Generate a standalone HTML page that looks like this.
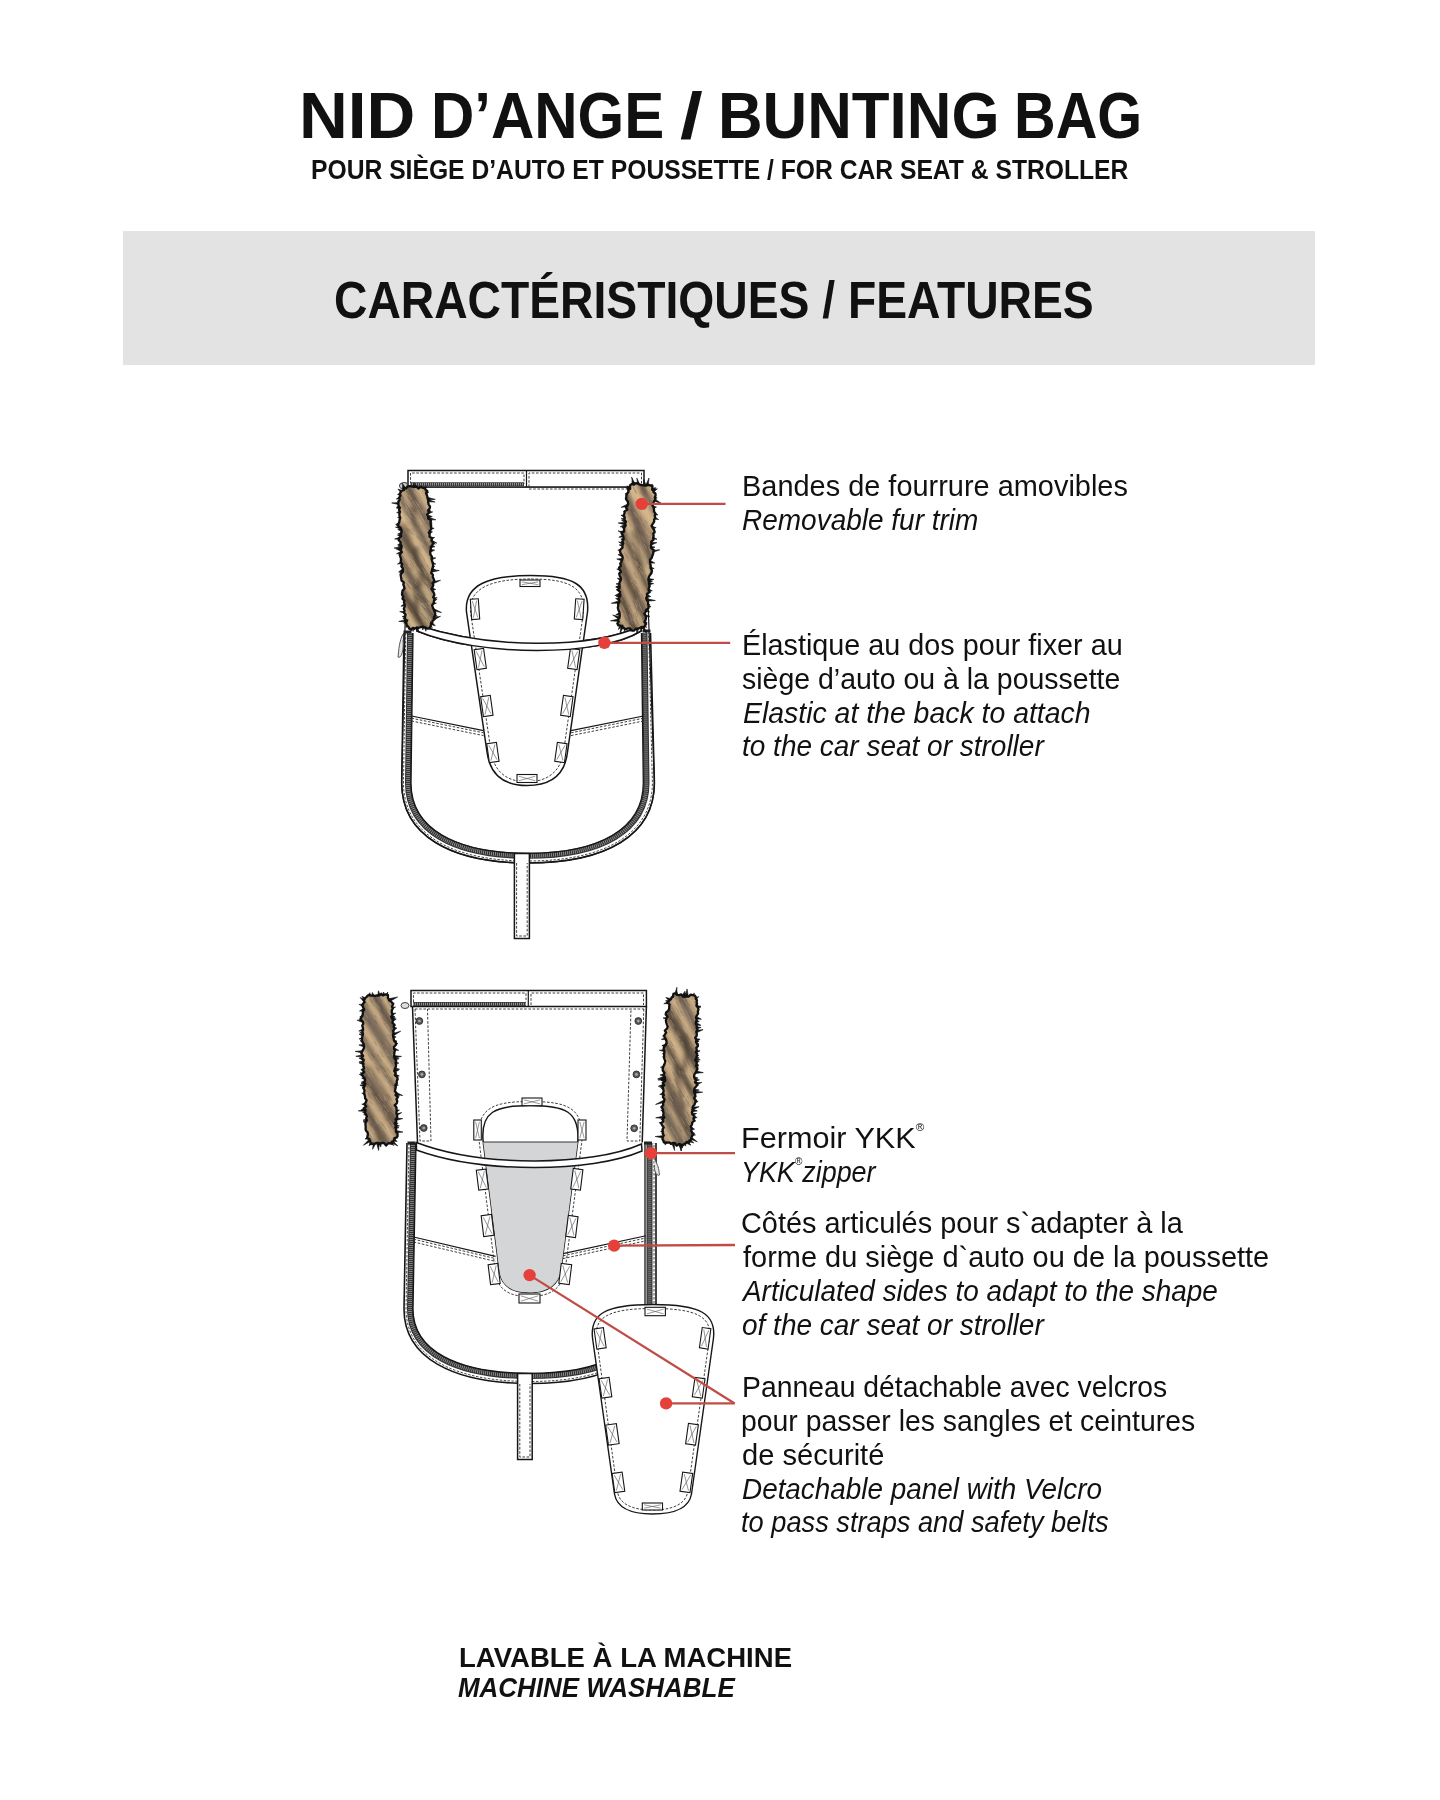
<!DOCTYPE html>
<html><head><meta charset="utf-8"><style>
html,body{margin:0;padding:0;background:#fff;}
body{width:1440px;height:1800px;position:relative;overflow:hidden;font-family:"Liberation Sans",sans-serif;color:#111;}
.t{position:absolute;white-space:nowrap;transform-origin:0 0;}
.t sup{font-size:0.38em;vertical-align:0;position:relative;top:-1.55em;}
.band{position:absolute;left:123px;top:231px;width:1192px;height:134px;background:#e3e3e3;}
svg{position:absolute;left:0;top:0;}
</style></head><body>
<div class="band"></div>
<svg width="1440" height="1800" viewBox="0 0 1440 1800">
<defs><filter id="blur2" x="-20%" y="-20%" width="140%" height="140%"><feGaussianBlur stdDeviation="2"/></filter></defs>
<path d="M408.0,487.0 L401.7,783.0 C401.7,835.0 449.7,863.0 528.0,863.0 C606.4,863.0 654.4,835.0 654.4,783.0 L644.0,487.0 Z" fill="#fff" stroke="#161616" stroke-width="1.2"/>
<rect x="408" y="470.5" width="236" height="16.5" fill="#fff" stroke="#161616" stroke-width="1.5"/>
<path d="M526.5,470.5 L526.5,487" stroke="#161616" stroke-width="1.2"/>
<path d="M410.5,484 L410.5,473 L524,473 L524,484 M529,487 L529,473 L641.5,473 L641.5,486" fill="none" stroke="#2a2a2a" stroke-width="0.9" stroke-dasharray="2.6 1.6"/>
<path d="M410,484.3 L524,484.3" stroke="#3a3a3a" stroke-width="4"/><path d="M410,484.3 L524,484.3" stroke="#999" stroke-width="2.6" stroke-dasharray="0.9 1.1"/>
<path d="M529,489 L643,489" stroke="#2a2a2a" stroke-width="0.9" stroke-dasharray="2.6 1.6"/>
<path d="M410.0,633.0 L408.0,783.0 C408.0,830.3 453.6,855.8 528.0,855.8 C601.5,855.8 646.5,830.3 646.5,783.0 L644.5,633.0" fill="none" stroke="#333" stroke-width="6"/>
<path d="M410.0,633.0 L408.0,783.0 C408.0,830.3 453.6,855.8 528.0,855.8 C601.5,855.8 646.5,830.3 646.5,783.0 L644.5,633.0" fill="none" stroke="#999" stroke-width="3.8" stroke-dasharray="0.8 1.2"/>
<path d="M413.0,633.0 L411.0,783.0 C411.0,828.7 455.5,853.3 528.0,853.3 C599.5,853.3 643.3,828.7 643.3,783.0 L641.5,633.0" fill="none" stroke="#161616" stroke-width="1.3"/>
<path d="M405.7,633.0 L403.5,783.0 C403.5,833.7 450.8,861.0 528.0,861.0 C605.1,861.0 652.4,833.7 652.4,783.0 L648.7,633.0" fill="none" stroke="#333" stroke-width="0.9" stroke-dasharray="2.5 1.5"/>
<path d="M404.0,633.0 L401.7,783.0 C401.7,835.0 449.7,863.0 528.0,863.0 C606.4,863.0 654.4,835.0 654.4,783.0 L650.5,633.0" fill="none" stroke="#161616" stroke-width="1.6"/>
<rect x="514.4" y="853.5" width="15" height="85" fill="#fff" stroke="#161616" stroke-width="1.5"/>
<path d="M516.6,863 L516.6,936 L527.2,936 L527.2,863" fill="none" stroke="#2a2a2a" stroke-width="0.9" stroke-dasharray="2.6 1.6"/>
<path d="M411.5,716 L483.5,730.6" stroke="#161616" stroke-width="1.1"/>
<path d="M411.5,718.2 L483.5,732.8000000000001" stroke="#2a2a2a" stroke-width="0.9" stroke-dasharray="2.6 1.6"/>
<path d="M411.5,721 L483.5,735.6" stroke="#2a2a2a" stroke-width="0.9" stroke-dasharray="2.6 1.6"/>
<path d="M571,730.6 L643.5,716" stroke="#161616" stroke-width="1.1"/>
<path d="M571,732.8000000000001 L643.5,718.2" stroke="#2a2a2a" stroke-width="0.9" stroke-dasharray="2.6 1.6"/>
<path d="M571,735.6 L643.5,721" stroke="#2a2a2a" stroke-width="0.9" stroke-dasharray="2.6 1.6"/>
<path d="M417,631 C480,657 600,657 641,631 L641,626 C590,649.2 490,649.2 417,625 Z" fill="#fff" stroke="#161616" stroke-width="1.5"/>
<g id="p1">
<path d="M531,575.5 C572,575.5 590,584 587.5,612 L567.5,752 C565,775 550,785.5 527,785.5 C504,785.5 490,775 487,752 L466.5,612 C464,584 490,575.5 531,575.5 Z" fill="#fff" stroke="#161616" stroke-width="1.5"/>
<path d="M531,579 C569,579 585,587 583.5,612 L563.8,750 C561.5,771 548,781.8 527,781.8 C506,781.8 493.5,771 490.8,750 L470.5,612 C468.5,587 493,579 531,579 Z" fill="none" stroke="#2a2a2a" stroke-width="0.9" stroke-dasharray="2.6 1.6"/>
<g><rect x="520.0" y="580.0" width="20.0" height="6.5" fill="#fff" stroke="#161616" stroke-width="1.1"/><path d="M521.8,581.8 L538.2,584.7 M538.2,581.8 L521.8,584.7" stroke="#555" stroke-width="0.6"/></g>
<g transform="rotate(-4.0 475.0 609.2)"><rect x="471.0" y="599.0" width="8.0" height="20.4" fill="#fff" stroke="#161616" stroke-width="1.1"/><path d="M472.8,600.8 L477.2,617.6 M477.2,600.8 L472.8,617.6" stroke="#555" stroke-width="0.6"/></g>
<g transform="rotate(4.0 579.2 609.2)"><rect x="575.0" y="599.0" width="8.4" height="20.4" fill="#fff" stroke="#161616" stroke-width="1.1"/><path d="M576.8,600.8 L581.6,617.6 M581.6,600.8 L576.8,617.6" stroke="#555" stroke-width="0.6"/></g>
<g transform="rotate(-8.0 480.2 659.0)"><rect x="475.5" y="649.0" width="9.5" height="20.0" fill="#fff" stroke="#161616" stroke-width="1.1"/><path d="M477.3,650.8 L483.2,667.2 M483.2,650.8 L477.3,667.2" stroke="#555" stroke-width="0.6"/></g>
<g transform="rotate(8.0 573.8 659.0)"><rect x="569.0" y="649.0" width="9.5" height="20.0" fill="#fff" stroke="#161616" stroke-width="1.1"/><path d="M570.8,650.8 L576.7,667.2 M576.7,650.8 L570.8,667.2" stroke="#555" stroke-width="0.6"/></g>
<g transform="rotate(-8.0 486.9 706.0)"><rect x="482.0" y="696.0" width="9.7" height="20.0" fill="#fff" stroke="#161616" stroke-width="1.1"/><path d="M483.8,697.8 L489.9,714.2 M489.9,697.8 L483.8,714.2" stroke="#555" stroke-width="0.6"/></g>
<g transform="rotate(8.0 566.9 706.0)"><rect x="562.0" y="696.0" width="9.7" height="20.0" fill="#fff" stroke="#161616" stroke-width="1.1"/><path d="M563.8,697.8 L569.9,714.2 M569.9,697.8 L563.8,714.2" stroke="#555" stroke-width="0.6"/></g>
<g transform="rotate(-8.0 492.9 752.5)"><rect x="488.0" y="743.0" width="9.8" height="19.0" fill="#fff" stroke="#161616" stroke-width="1.1"/><path d="M489.8,744.8 L496.0,760.2 M496.0,744.8 L489.8,760.2" stroke="#555" stroke-width="0.6"/></g>
<g transform="rotate(8.0 560.9 752.5)"><rect x="556.0" y="743.0" width="9.8" height="19.0" fill="#fff" stroke="#161616" stroke-width="1.1"/><path d="M557.8,744.8 L564.0,760.2 M564.0,744.8 L557.8,760.2" stroke="#555" stroke-width="0.6"/></g>
<g><rect x="517.0" y="774.5" width="20.0" height="8.0" fill="#fff" stroke="#161616" stroke-width="1.1"/><path d="M518.8,776.3 L535.2,780.7 M535.2,776.3 L518.8,780.7" stroke="#555" stroke-width="0.6"/></g>
</g>
<path d="M417,631 C480,657 600,657 641,631 L641,626 C590,649.2 490,649.2 417,625 Z" fill="#fff" stroke="#161616" stroke-width="1.5"/>
<ellipse cx="403.5" cy="485.5" rx="4" ry="2.8" fill="#ccc" stroke="#444" stroke-width="1" transform="rotate(-15 403.5 485.5)"/>
<rect x="403.5" y="630.5" width="8" height="3" fill="#222"/>
<rect x="642.5" y="629.5" width="8" height="3" fill="#222"/>
<path d="M403,634 C399,642 399,649 398,657 C401,659 404,651 403,640" fill="#e6e6e6" stroke="#555" stroke-width="1"/>
<clipPath id="fc11"><path d="M400.5,495.6 L399.2,497.7 L399.7,499.7 L398.5,501.8 L398.4,503.8 L398.6,505.8 L400.0,507.8 L399.0,509.9 L400.0,511.8 L399.3,513.9 L399.5,515.9 L400.3,517.9 L399.6,519.9 L399.3,522.0 L398.3,524.0 L398.4,526.1 L400.7,528.0 L401.5,529.9 L401.6,532.0 L400.8,534.0 L401.2,536.0 L399.1,538.2 L398.7,540.2 L400.6,542.1 L400.7,544.1 L401.7,546.1 L401.5,548.1 L400.6,550.2 L401.9,552.2 L399.8,554.3 L400.2,556.3 L400.9,558.3 L401.0,560.3 L400.6,562.3 L402.2,564.3 L401.3,566.3 L402.9,568.3 L403.0,570.3 L402.7,572.3 L400.6,574.5 L400.9,576.5 L401.3,578.5 L401.5,580.5 L403.9,582.4 L403.3,584.4 L404.0,586.4 L404.5,588.4 L402.6,590.5 L402.2,592.6 L402.0,594.6 L403.2,596.6 L402.5,598.6 L404.4,600.6 L403.9,602.6 L404.8,604.6 L404.7,606.6 L403.8,608.7 L404.6,610.6 L404.0,612.7 L405.6,614.6 L405.1,616.7 L404.8,618.7 L407.1,620.6 L405.9,622.3 L406.5,623.8 L406.8,625.6 L408.3,626.6 L409.1,628.5 L410.8,629.5 L413.0,627.8 L414.5,628.8 L416.7,627.4 L418.9,627.8 L421.0,627.0 L423.2,626.7 L425.5,627.6 L427.3,628.6 L429.2,628.3 L430.3,626.7 L430.9,624.9 L430.9,623.1 L432.4,622.2 L432.5,620.8 L434.4,619.3 L433.8,617.3 L435.2,615.2 L435.2,613.2 L434.4,611.2 L433.6,609.2 L432.7,607.2 L432.1,605.2 L433.6,603.1 L433.9,601.1 L434.5,599.1 L433.2,597.1 L434.4,595.0 L433.9,593.0 L432.8,591.1 L431.4,589.1 L432.6,587.0 L433.3,585.0 L432.5,583.0 L434.3,580.9 L433.7,578.9 L432.7,576.9 L433.0,574.9 L431.2,572.9 L431.9,570.9 L432.2,568.8 L433.0,566.8 L433.1,564.8 L432.7,562.8 L432.1,560.8 L431.6,558.8 L431.9,556.7 L430.6,554.8 L430.2,552.8 L430.3,550.8 L430.9,548.7 L430.7,546.7 L432.7,544.6 L432.8,542.5 L431.3,540.6 L432.1,538.5 L429.5,536.6 L429.7,534.6 L428.8,532.6 L430.3,530.5 L431.4,528.5 L431.0,526.5 L430.8,524.4 L430.5,522.4 L431.0,520.4 L428.1,518.5 L428.1,516.5 L427.1,514.5 L429.2,512.4 L428.0,510.4 L429.8,508.3 L430.0,506.3 L428.6,504.3 L428.2,502.3 L428.2,500.3 L427.6,498.3 L427.3,496.3 L426.6,494.3 L426.0,493.0 L427.2,490.9 L425.6,489.8 L425.0,488.0 L423.0,487.9 L421.6,487.2 L420.0,486.9 L418.6,488.6 L416.3,486.7 L414.1,487.1 L411.9,486.5 L409.7,486.2 L407.5,486.3 L406.2,488.3 L404.4,487.8 L404.0,490.1 L402.6,490.5 L401.1,491.3 L400.5,492.7 L399.6,494.1Z"/></clipPath>
<path d="M400.3,496.4 L396.2,499.0 L400.4,499.0Z M400.3,500.4 L397.3,501.2 L400.5,503.0Z M400.3,502.4 L391.7,502.9 L400.5,505.0Z M400.4,504.4 L396.4,507.4 L400.5,507.0Z M400.4,506.5 L396.5,508.1 L400.5,509.1Z M400.4,510.5 L396.6,512.7 L400.6,513.1Z M400.5,516.6 L397.6,517.4 L400.6,519.2Z M400.6,522.6 L395.6,524.3 L400.7,525.2Z M400.6,524.6 L396.3,525.2 L400.8,527.2Z M400.7,526.7 L395.5,527.1 L400.8,529.3Z M400.7,528.7 L397.8,529.5 L400.9,531.3Z M400.8,532.7 L397.8,533.8 L401.0,535.3Z M400.9,534.7 L397.4,535.0 L401.0,537.3Z M401.0,536.8 L394.6,539.0 L401.1,539.4Z M401.2,542.8 L397.6,544.9 L401.3,545.4Z M401.2,544.8 L397.9,546.0 L401.4,547.4Z M401.3,546.8 L394.1,548.0 L401.4,549.4Z M401.4,548.9 L396.3,549.1 L401.5,551.5Z M401.5,550.9 L396.5,553.8 L401.6,553.5Z M401.7,554.9 L398.8,555.4 L401.8,557.5Z M402.0,561.0 L397.5,564.1 L402.1,563.6Z M402.4,569.0 L398.6,571.9 L402.6,571.6Z M402.6,571.0 L399.5,572.8 L402.7,573.6Z M403.0,577.1 L400.1,577.7 L403.1,579.7Z M405.0,603.3 L400.9,606.2 L405.2,605.9Z M405.8,611.3 L399.7,611.6 L405.9,613.9Z M406.1,615.3 L402.1,616.5 L406.3,617.9Z M406.3,617.3 L402.8,618.3 L406.4,619.9Z M406.5,619.4 L398.8,621.4 L406.6,622.0Z M406.5,620.8 L403.7,623.0 L407.2,623.3Z M407.4,623.5 L405.9,627.5 L409.0,625.6Z M410.4,626.6 L411.0,631.0 L412.9,627.5Z M411.8,627.2 L413.1,631.5 L414.3,627.6Z M415.4,627.4 L418.8,632.2 L418.0,627.3Z M422.0,627.1 L422.7,629.9 L424.6,627.0Z M424.2,627.0 L425.9,631.3 L426.8,626.9Z M428.4,626.3 L432.3,627.4 L430.5,624.7Z M430.7,624.5 L435.3,625.8 L432.1,622.3Z M432.7,620.7 L440.5,616.3 L432.6,618.1Z M432.7,616.6 L437.7,616.3 L432.6,614.0Z M432.7,614.6 L435.9,613.7 L432.5,612.0Z M432.6,610.6 L441.5,612.6 L432.5,608.0Z M432.6,604.5 L436.4,603.2 L432.4,601.9Z M432.5,602.5 L437.2,599.2 L432.4,599.9Z M432.5,600.5 L437.2,597.5 L432.4,597.9Z M432.4,590.4 L435.8,589.5 L432.2,587.8Z M432.2,584.3 L440.5,580.3 L432.1,581.7Z M431.8,572.2 L439.3,570.5 L431.7,569.6Z M431.8,570.2 L435.6,570.1 L431.6,567.6Z M431.7,568.2 L434.7,566.5 L431.6,565.6Z M431.5,564.1 L435.9,564.1 L431.4,561.5Z M431.3,560.1 L435.8,557.9 L431.2,557.5Z M430.9,552.0 L434.7,550.1 L430.8,549.4Z M430.7,548.0 L435.0,546.6 L430.6,545.4Z M430.4,544.0 L435.3,544.0 L430.3,541.4Z M430.3,541.9 L436.8,543.1 L430.2,539.3Z M430.2,539.9 L434.7,537.5 L430.1,537.3Z M429.8,533.9 L432.5,531.8 L429.6,531.3Z M429.5,529.9 L434.1,528.3 L429.3,527.3Z M429.3,527.8 L432.3,525.3 L429.2,525.2Z M429.0,523.8 L432.3,523.2 L428.9,521.2Z M428.7,519.8 L435.9,519.8 L428.5,517.2Z M428.5,517.8 L432.3,516.6 L428.4,515.2Z M428.1,513.8 L432.7,511.9 L428.0,511.2Z M428.0,511.7 L430.8,511.1 L427.8,509.1Z M427.1,501.7 L435.1,502.0 L426.9,499.1Z M426.9,499.7 L435.3,499.4 L426.7,497.1Z M426.5,494.2 L428.8,492.0 L425.8,491.7Z M424.8,490.2 L426.7,486.3 L422.8,488.5Z M417.6,487.6 L415.5,484.7 L415.0,487.7Z M415.4,487.7 L414.1,482.7 L412.8,487.8Z M406.0,488.2 L402.0,483.1 L403.6,489.3Z M404.6,488.7 L402.6,486.5 L402.5,490.3Z M402.3,490.5 L397.9,489.1 L400.9,492.7Z M400.7,492.9 L397.5,494.5 L400.3,495.5Z" fill="#111" stroke="#111" stroke-width="0.6" stroke-linejoin="miter"/>
<path d="M400.5,495.6 L399.2,497.7 L399.7,499.7 L398.5,501.8 L398.4,503.8 L398.6,505.8 L400.0,507.8 L399.0,509.9 L400.0,511.8 L399.3,513.9 L399.5,515.9 L400.3,517.9 L399.6,519.9 L399.3,522.0 L398.3,524.0 L398.4,526.1 L400.7,528.0 L401.5,529.9 L401.6,532.0 L400.8,534.0 L401.2,536.0 L399.1,538.2 L398.7,540.2 L400.6,542.1 L400.7,544.1 L401.7,546.1 L401.5,548.1 L400.6,550.2 L401.9,552.2 L399.8,554.3 L400.2,556.3 L400.9,558.3 L401.0,560.3 L400.6,562.3 L402.2,564.3 L401.3,566.3 L402.9,568.3 L403.0,570.3 L402.7,572.3 L400.6,574.5 L400.9,576.5 L401.3,578.5 L401.5,580.5 L403.9,582.4 L403.3,584.4 L404.0,586.4 L404.5,588.4 L402.6,590.5 L402.2,592.6 L402.0,594.6 L403.2,596.6 L402.5,598.6 L404.4,600.6 L403.9,602.6 L404.8,604.6 L404.7,606.6 L403.8,608.7 L404.6,610.6 L404.0,612.7 L405.6,614.6 L405.1,616.7 L404.8,618.7 L407.1,620.6 L405.9,622.3 L406.5,623.8 L406.8,625.6 L408.3,626.6 L409.1,628.5 L410.8,629.5 L413.0,627.8 L414.5,628.8 L416.7,627.4 L418.9,627.8 L421.0,627.0 L423.2,626.7 L425.5,627.6 L427.3,628.6 L429.2,628.3 L430.3,626.7 L430.9,624.9 L430.9,623.1 L432.4,622.2 L432.5,620.8 L434.4,619.3 L433.8,617.3 L435.2,615.2 L435.2,613.2 L434.4,611.2 L433.6,609.2 L432.7,607.2 L432.1,605.2 L433.6,603.1 L433.9,601.1 L434.5,599.1 L433.2,597.1 L434.4,595.0 L433.9,593.0 L432.8,591.1 L431.4,589.1 L432.6,587.0 L433.3,585.0 L432.5,583.0 L434.3,580.9 L433.7,578.9 L432.7,576.9 L433.0,574.9 L431.2,572.9 L431.9,570.9 L432.2,568.8 L433.0,566.8 L433.1,564.8 L432.7,562.8 L432.1,560.8 L431.6,558.8 L431.9,556.7 L430.6,554.8 L430.2,552.8 L430.3,550.8 L430.9,548.7 L430.7,546.7 L432.7,544.6 L432.8,542.5 L431.3,540.6 L432.1,538.5 L429.5,536.6 L429.7,534.6 L428.8,532.6 L430.3,530.5 L431.4,528.5 L431.0,526.5 L430.8,524.4 L430.5,522.4 L431.0,520.4 L428.1,518.5 L428.1,516.5 L427.1,514.5 L429.2,512.4 L428.0,510.4 L429.8,508.3 L430.0,506.3 L428.6,504.3 L428.2,502.3 L428.2,500.3 L427.6,498.3 L427.3,496.3 L426.6,494.3 L426.0,493.0 L427.2,490.9 L425.6,489.8 L425.0,488.0 L423.0,487.9 L421.6,487.2 L420.0,486.9 L418.6,488.6 L416.3,486.7 L414.1,487.1 L411.9,486.5 L409.7,486.2 L407.5,486.3 L406.2,488.3 L404.4,487.8 L404.0,490.1 L402.6,490.5 L401.1,491.3 L400.5,492.7 L399.6,494.1Z" fill="#a88d70"/>
<g clip-path="url(#fc11)"><g filter="url(#blur2)">
<path d="M390.5,428.0 L433.1,499.1" stroke="#4a4036" stroke-width="8.3" opacity="0.85" stroke-linecap="round"/>
<path d="M398.0,433.5 L410.4,469.5" stroke="#3f352c" stroke-width="4.7" opacity="0.6" stroke-linecap="round"/>
<path d="M391.3,442.8 L433.8,513.6" stroke="#d9bb90" stroke-width="9.9" opacity="0.76" stroke-linecap="round"/>
<path d="M392.1,460.3 L434.9,535.0" stroke="#6b5e52" stroke-width="10.3" opacity="0.73" stroke-linecap="round"/>
<path d="M392.9,474.9 L435.8,552.1" stroke="#d9bb90" stroke-width="5.3" opacity="0.80" stroke-linecap="round"/>
<path d="M393.5,487.7 L436.2,560.9" stroke="#5e5248" stroke-width="8.1" opacity="0.72" stroke-linecap="round"/>
<path d="M410.6,488.8 L415.8,526.2" stroke="#3f352c" stroke-width="3.7" opacity="0.6" stroke-linecap="round"/>
<path d="M394.2,502.2 L437.1,578.8" stroke="#d9bb90" stroke-width="7.7" opacity="0.95" stroke-linecap="round"/>
<path d="M395.4,525.0 L437.9,595.7" stroke="#54483d" stroke-width="7.4" opacity="0.80" stroke-linecap="round"/>
<path d="M404.5,524.7 L417.7,560.4" stroke="#3f352c" stroke-width="3.8" opacity="0.6" stroke-linecap="round"/>
<path d="M396.2,541.1 L438.8,614.1" stroke="#d9bb90" stroke-width="6.0" opacity="0.77" stroke-linecap="round"/>
<path d="M396.8,553.9 L439.6,628.9" stroke="#5e5248" stroke-width="9.0" opacity="0.88" stroke-linecap="round"/>
<path d="M417.3,547.6 L421.0,586.0" stroke="#3f352c" stroke-width="3.9" opacity="0.6" stroke-linecap="round"/>
<path d="M397.4,567.0 L440.2,642.5" stroke="#d9bb90" stroke-width="5.4" opacity="0.72" stroke-linecap="round"/>
<path d="M398.5,588.0 L440.9,655.0" stroke="#4a4036" stroke-width="9.8" opacity="0.80" stroke-linecap="round"/>
<path d="M414.6,585.2 L418.7,619.6" stroke="#3f352c" stroke-width="4.6" opacity="0.6" stroke-linecap="round"/>
<path d="M399.4,605.6 L441.7,672.0" stroke="#d9bb90" stroke-width="9.1" opacity="0.91" stroke-linecap="round"/>
<path d="M400.2,623.1 L442.5,688.0" stroke="#6b5e52" stroke-width="10.5" opacity="0.86" stroke-linecap="round"/>
<path d="M406.5,624.7 L423.2,657.3" stroke="#3f352c" stroke-width="3.6" opacity="0.6" stroke-linecap="round"/>
<path d="M401.1,640.8 L443.6,710.8" stroke="#d9bb90" stroke-width="7.1" opacity="0.79" stroke-linecap="round"/>
</g>
<path d="M432.4,613.5 L434.8,617.1 M406.5,527.6 L408.8,531.2 M408.1,528.2 L412.1,534.4 M422.3,591.4 L424.8,595.2 M407.0,624.6 L410.4,629.7 M402.3,543.0 L406.9,550.0 M418.7,536.7 L421.9,541.6 M406.4,564.1 L410.1,569.8 M429.7,523.8 L433.2,529.2 M408.2,580.8 L410.6,584.4 M406.0,494.7 L410.6,501.7 M413.7,594.8 L416.6,599.1 M421.8,597.3 L424.8,602.0 M409.9,563.5 L414.0,569.7 M406.8,583.2 L411.2,589.8 M416.8,578.7 L420.9,584.9 M406.4,504.4 L411.2,511.8 M422.4,545.8 L427.2,553.1 M409.1,580.3 L411.7,584.3 M433.9,618.6 L436.4,622.3 M415.2,590.4 L418.0,594.7 M424.3,596.1 L427.9,601.6 M406.6,616.6 L409.7,621.3 M428.4,514.7 L433.1,521.9 M423.6,559.5 L428.4,566.9 M420.3,553.2 L424.6,559.8 M419.4,505.4 L422.3,509.8 M427.4,631.6 L431.0,637.1 M408.2,606.6 L412.6,613.2 M414.1,496.6 L417.5,501.9 M406.1,528.3 L409.4,533.3 M413.0,513.5 L416.6,519.0 M428.2,528.3 L431.2,532.8 M430.1,585.1 L433.3,590.1 M432.8,580.0 L435.9,584.8 M431.3,550.4 L436.2,557.8 M418.8,525.7 L422.4,531.2 M425.3,582.3 L428.0,586.4 M410.0,567.3 L413.1,572.0 M408.0,496.5 L412.0,502.7 M429.9,570.9 L432.7,575.1 M400.3,493.6 L403.6,498.7 M422.4,605.8 L425.5,610.5 M403.1,588.4 L407.4,595.0 M420.1,531.7 L424.0,537.7 M408.6,601.6 L412.4,607.4 M421.4,564.6 L424.9,569.9 M410.0,560.3 L414.4,567.0 M427.1,511.2 L430.0,515.6 M424.0,622.1 L427.4,627.3 M418.2,618.6 L421.9,624.2 M410.4,632.3 L414.2,638.1 M427.5,617.0 L431.2,622.7 M427.8,492.8 L430.5,496.8 M409.8,528.7 L413.9,535.1 M422.2,484.0 L425.6,489.2 M413.4,508.3 L416.3,512.6 M407.7,488.0 L410.3,491.9 M412.0,544.3 L416.0,550.5 M409.7,632.7 L414.2,639.5 M418.7,618.7 L422.3,624.2 M406.2,490.6 L410.8,497.6 M412.1,528.2 L414.5,531.7 M429.6,541.2 L433.6,547.4 M423.9,541.3 L426.2,544.9 M421.7,612.7 L426.0,619.3 M432.0,617.8 L436.3,624.4 M420.7,481.7 L423.7,486.2 M422.0,605.0 L425.2,609.7 M425.4,617.4 L429.0,622.7 M420.6,512.9 L425.3,520.0 M416.3,535.4 L418.9,539.4 M427.0,577.0 L431.6,583.9 M402.7,529.9 L407.2,536.8 M421.5,623.5 L423.9,627.1 M424.1,511.2 L426.9,515.4 M405.8,582.6 L409.6,588.3 M424.7,582.4 L428.6,588.3 M415.8,561.8 L418.0,565.3 M431.6,602.6 L434.5,607.1 M426.6,564.3 L431.2,571.3 M421.9,595.2 L426.6,602.3 M421.9,579.2 L425.9,585.2 M413.4,609.9 L417.0,615.4 M410.6,507.1 L413.4,511.4" stroke="#3e342b" stroke-width="0.5" opacity="0.45"/>
<path d="M417.5,567.2 L421.5,573.3 M409.3,514.5 L411.7,518.1 M425.9,524.2 L429.1,528.9 M415.9,589.2 L420.6,596.3 M424.8,603.0 L427.8,607.6 M418.9,519.3 L422.1,524.1 M412.2,511.5 L416.6,518.1 M406.1,509.1 L410.6,516.0 M414.7,564.3 L419.5,571.5 M407.9,565.0 L410.3,568.7 M409.2,495.0 L411.8,498.9 M406.2,515.7 L409.8,521.1 M414.7,628.5 L418.2,633.8 M422.4,620.0 L426.8,626.7 M407.0,608.5 L411.7,615.7 M421.2,603.0 L424.5,608.0 M425.9,538.2 L428.6,542.3 M419.1,490.7 L421.6,494.4 M414.5,491.4 L418.2,497.1 M422.9,509.4 L425.7,513.7 M420.9,509.6 L423.6,513.6 M419.5,605.4 L422.4,609.7 M402.7,565.4 L406.2,570.6 M422.3,602.8 L425.9,608.3 M425.8,580.9 L428.0,584.2 M414.8,589.9 L417.4,593.8 M418.8,613.3 L422.7,619.2 M405.5,505.2 L407.7,508.5 M420.5,494.1 L424.6,500.3 M417.2,626.4 L421.7,633.2 M432.3,619.8 L436.7,626.5 M403.7,506.3 L406.7,510.9 M409.6,552.9 L412.7,557.7 M401.8,552.4 L406.2,559.2 M426.2,588.8 L429.9,594.4 M427.8,602.3 L431.7,608.1 M420.0,526.8 L423.3,531.7 M423.5,592.2 L428.2,599.4 M431.6,606.2 L434.1,610.1 M417.1,509.0 L421.6,515.8 M425.6,505.1 L428.8,510.1 M412.0,559.5 L416.3,565.9 M430.8,543.5 L434.1,548.4 M414.3,581.9 L416.6,585.2 M417.3,497.9 L420.9,503.3 M405.7,506.3 L410.3,513.3 M407.2,503.7 L412.0,511.1 M400.5,512.5 L404.3,518.3 M411.0,569.4 L414.0,574.0 M399.0,501.5 L401.6,505.3 M424.2,566.2 L428.9,573.3 M403.6,501.0 L406.6,505.5 M428.7,607.0 L432.4,612.5 M406.5,631.7 L410.5,637.7 M412.8,539.8 L417.1,546.4 M417.3,503.4 L421.1,509.1 M422.2,567.5 L426.1,573.5 M416.8,627.0 L420.3,632.2 M410.6,596.8 L414.1,602.1 M417.9,543.7 L421.6,549.3 M403.5,547.9 L406.5,552.5 M415.2,592.7 L419.4,599.1 M415.3,500.7 L418.9,506.1 M424.8,561.1 L427.8,565.6 M405.1,620.3 L409.1,626.4 M406.8,515.9 L410.5,521.5 M412.5,500.8 L417.3,508.0 M428.7,530.4 L433.3,537.4 M431.2,569.7 L433.5,573.1 M405.0,623.8 L408.4,629.0 M428.9,616.9 L433.3,623.7 M404.0,615.6 L406.7,619.7 M425.3,489.0 L429.5,495.2 M429.4,589.1 L433.5,595.3 M420.4,515.4 L424.5,521.6 M408.7,582.8 L411.9,587.6 M420.6,516.3 L425.3,523.4 M398.5,496.3 L401.8,501.4 M423.9,572.2 L426.8,576.6 M426.3,595.7 L429.2,600.2 M434.6,630.4 L438.0,635.6 M426.4,557.0 L430.1,562.6 M418.1,600.3 L421.6,605.6 M430.0,625.2 L434.3,631.7" stroke="#e6cfa8" stroke-width="0.5" opacity="0.5"/>
</g>
<path d="M400.5,495.6 L399.2,497.7 L399.7,499.7 L398.5,501.8 L398.4,503.8 L398.6,505.8 L400.0,507.8 L399.0,509.9 L400.0,511.8 L399.3,513.9 L399.5,515.9 L400.3,517.9 L399.6,519.9 L399.3,522.0 L398.3,524.0 L398.4,526.1 L400.7,528.0 L401.5,529.9 L401.6,532.0 L400.8,534.0 L401.2,536.0 L399.1,538.2 L398.7,540.2 L400.6,542.1 L400.7,544.1 L401.7,546.1 L401.5,548.1 L400.6,550.2 L401.9,552.2 L399.8,554.3 L400.2,556.3 L400.9,558.3 L401.0,560.3 L400.6,562.3 L402.2,564.3 L401.3,566.3 L402.9,568.3 L403.0,570.3 L402.7,572.3 L400.6,574.5 L400.9,576.5 L401.3,578.5 L401.5,580.5 L403.9,582.4 L403.3,584.4 L404.0,586.4 L404.5,588.4 L402.6,590.5 L402.2,592.6 L402.0,594.6 L403.2,596.6 L402.5,598.6 L404.4,600.6 L403.9,602.6 L404.8,604.6 L404.7,606.6 L403.8,608.7 L404.6,610.6 L404.0,612.7 L405.6,614.6 L405.1,616.7 L404.8,618.7 L407.1,620.6 L405.9,622.3 L406.5,623.8 L406.8,625.6 L408.3,626.6 L409.1,628.5 L410.8,629.5 L413.0,627.8 L414.5,628.8 L416.7,627.4 L418.9,627.8 L421.0,627.0 L423.2,626.7 L425.5,627.6 L427.3,628.6 L429.2,628.3 L430.3,626.7 L430.9,624.9 L430.9,623.1 L432.4,622.2 L432.5,620.8 L434.4,619.3 L433.8,617.3 L435.2,615.2 L435.2,613.2 L434.4,611.2 L433.6,609.2 L432.7,607.2 L432.1,605.2 L433.6,603.1 L433.9,601.1 L434.5,599.1 L433.2,597.1 L434.4,595.0 L433.9,593.0 L432.8,591.1 L431.4,589.1 L432.6,587.0 L433.3,585.0 L432.5,583.0 L434.3,580.9 L433.7,578.9 L432.7,576.9 L433.0,574.9 L431.2,572.9 L431.9,570.9 L432.2,568.8 L433.0,566.8 L433.1,564.8 L432.7,562.8 L432.1,560.8 L431.6,558.8 L431.9,556.7 L430.6,554.8 L430.2,552.8 L430.3,550.8 L430.9,548.7 L430.7,546.7 L432.7,544.6 L432.8,542.5 L431.3,540.6 L432.1,538.5 L429.5,536.6 L429.7,534.6 L428.8,532.6 L430.3,530.5 L431.4,528.5 L431.0,526.5 L430.8,524.4 L430.5,522.4 L431.0,520.4 L428.1,518.5 L428.1,516.5 L427.1,514.5 L429.2,512.4 L428.0,510.4 L429.8,508.3 L430.0,506.3 L428.6,504.3 L428.2,502.3 L428.2,500.3 L427.6,498.3 L427.3,496.3 L426.6,494.3 L426.0,493.0 L427.2,490.9 L425.6,489.8 L425.0,488.0 L423.0,487.9 L421.6,487.2 L420.0,486.9 L418.6,488.6 L416.3,486.7 L414.1,487.1 L411.9,486.5 L409.7,486.2 L407.5,486.3 L406.2,488.3 L404.4,487.8 L404.0,490.1 L402.6,490.5 L401.1,491.3 L400.5,492.7 L399.6,494.1Z" fill="none" stroke="#111" stroke-width="2.3" stroke-linejoin="round"/>
<clipPath id="fc12"><path d="M628.6,491.5 L627.3,493.4 L626.3,495.4 L626.3,497.4 L626.1,499.4 L627.8,501.5 L628.1,503.6 L627.6,505.6 L626.0,507.5 L627.4,509.6 L624.6,511.4 L624.6,513.4 L623.8,515.4 L624.8,517.5 L624.3,519.5 L626.0,521.6 L625.2,523.6 L625.7,525.6 L624.3,527.5 L624.1,529.5 L624.1,531.6 L621.6,533.4 L623.0,535.5 L623.5,537.6 L623.7,539.6 L622.3,541.5 L623.3,543.6 L622.4,545.6 L622.6,547.6 L620.5,549.5 L620.0,551.5 L620.6,553.5 L622.1,555.7 L622.7,557.7 L622.2,559.7 L621.5,561.7 L620.2,563.6 L620.9,565.7 L619.1,567.5 L619.6,569.6 L621.0,571.7 L619.2,573.6 L619.7,575.7 L620.8,577.8 L621.0,579.8 L619.8,581.7 L619.3,583.7 L619.6,585.8 L619.7,587.8 L617.8,589.7 L620.0,591.9 L620.1,593.9 L620.3,595.9 L618.8,597.8 L618.9,599.9 L619.4,601.9 L618.1,603.8 L618.3,605.9 L617.8,607.8 L618.4,609.9 L619.4,612.0 L619.7,614.1 L619.8,616.1 L619.3,618.1 L617.9,620.0 L618.7,621.6 L617.3,623.6 L618.4,625.2 L620.6,625.7 L622.4,626.0 L623.0,627.8 L624.5,628.4 L626.0,629.2 L628.0,628.3 L630.0,628.4 L631.9,630.4 L633.9,630.7 L636.1,628.5 L637.5,629.0 L638.9,628.3 L640.2,627.7 L641.5,627.0 L644.0,627.1 L644.9,625.5 L646.1,624.0 L644.4,622.0 L645.5,620.1 L646.0,618.1 L645.9,616.1 L644.4,613.9 L645.6,612.0 L646.1,610.0 L648.4,608.2 L648.6,606.2 L648.0,604.1 L648.1,602.1 L646.6,599.9 L646.2,597.9 L647.3,596.0 L646.9,593.9 L649.7,592.1 L648.6,590.0 L648.8,588.0 L649.7,586.0 L648.9,584.0 L648.9,581.9 L648.3,579.9 L648.6,577.9 L649.4,575.9 L650.7,574.0 L651.7,572.0 L651.7,570.0 L650.5,567.9 L650.8,565.9 L650.4,563.9 L650.1,561.8 L650.0,559.8 L651.7,557.9 L652.3,555.9 L653.0,554.0 L653.4,552.0 L653.4,550.0 L651.1,547.8 L650.9,545.7 L651.4,543.7 L651.2,541.7 L653.4,539.9 L653.2,537.8 L653.7,535.8 L653.2,533.8 L654.6,531.9 L654.0,529.8 L652.7,527.7 L651.6,525.6 L652.9,523.7 L654.2,521.7 L654.1,519.7 L655.3,517.8 L654.7,515.7 L655.6,513.8 L654.1,511.6 L654.0,509.6 L653.8,507.6 L652.5,505.4 L653.3,503.5 L653.9,501.5 L655.3,499.6 L654.7,497.5 L655.6,495.6 L655.4,493.5 L653.5,492.0 L653.3,490.7 L652.1,489.7 L652.4,487.7 L652.3,485.4 L650.1,485.5 L648.6,484.8 L646.9,485.5 L644.9,485.5 L642.9,485.3 L641.0,484.8 L639.0,484.3 L637.1,483.2 L635.4,483.4 L634.0,484.7 L631.9,484.1 L630.3,485.0 L629.9,487.1 L630.2,489.0 L628.1,489.8Z"/></clipPath>
<path d="M628.7,492.2 L624.9,493.9 L628.5,494.8Z M628.0,498.2 L624.8,498.3 L627.8,500.8Z M627.3,504.2 L621.2,507.3 L627.1,506.8Z M626.7,510.3 L623.4,511.7 L626.5,512.8Z M626.4,512.3 L623.4,514.0 L626.2,514.8Z M626.2,514.3 L621.8,515.3 L626.0,516.9Z M626.0,516.3 L620.9,515.1 L625.8,518.9Z M625.8,518.3 L621.2,518.6 L625.6,520.9Z M625.6,520.3 L621.5,520.2 L625.4,522.9Z M625.4,522.3 L618.2,522.9 L625.2,524.9Z M625.1,524.3 L620.2,526.8 L624.9,526.9Z M624.9,526.3 L621.9,527.8 L624.7,528.9Z M624.5,530.3 L620.9,531.4 L624.3,532.9Z M624.3,532.3 L618.1,530.8 L624.1,534.9Z M624.2,534.3 L618.8,537.3 L624.0,536.9Z M623.8,538.3 L620.8,539.1 L623.6,540.9Z M623.4,542.3 L618.7,542.0 L623.2,544.9Z M623.3,544.3 L619.2,544.9 L623.1,546.9Z M622.9,548.4 L617.8,550.2 L622.7,550.9Z M622.4,554.4 L617.9,554.6 L622.2,557.0Z M622.1,558.4 L616.8,559.0 L621.9,561.0Z M621.5,568.4 L616.8,569.1 L621.3,571.0Z M620.9,578.5 L617.3,578.3 L620.7,581.1Z M620.7,582.5 L616.0,583.9 L620.5,585.1Z M620.6,584.5 L615.9,586.8 L620.4,587.1Z M620.5,586.5 L615.7,586.9 L620.3,589.1Z M620.4,588.6 L616.2,589.7 L620.2,591.2Z M620.2,592.6 L614.8,595.6 L620.0,595.2Z M620.1,594.6 L616.1,596.5 L619.9,597.2Z M619.9,598.6 L615.6,598.4 L619.7,601.2Z M619.8,600.6 L611.3,603.3 L619.6,603.2Z M619.4,612.7 L615.7,614.8 L619.2,615.3Z M619.3,616.8 L612.7,615.0 L619.1,619.4Z M619.2,618.8 L610.5,620.8 L619.0,621.4Z M619.6,623.0 L617.3,626.1 L620.8,625.3Z M620.2,624.3 L618.3,629.5 L621.9,626.3Z M621.1,625.5 L619.9,633.9 L623.2,627.1Z M623.4,627.2 L624.7,631.3 L625.9,627.9Z M628.8,628.0 L630.6,631.4 L631.4,628.2Z M630.8,628.2 L632.3,631.6 L633.4,628.4Z M636.2,628.7 L636.9,633.1 L638.8,628.4Z M640.4,627.7 L645.0,629.8 L642.4,626.0Z M641.6,626.9 L646.6,633.3 L643.2,624.8Z M642.6,625.8 L646.7,627.4 L643.8,623.5Z M643.5,624.6 L647.0,623.3 L644.2,622.1Z M644.0,623.3 L647.2,622.6 L644.2,620.7Z M644.7,617.3 L649.9,616.3 L644.9,614.7Z M645.4,611.3 L649.7,611.9 L645.6,608.7Z M645.9,607.3 L651.1,606.8 L646.1,604.7Z M646.1,605.3 L650.2,605.0 L646.3,602.7Z M646.6,601.2 L655.4,600.5 L646.8,598.7Z M647.0,597.2 L650.8,596.6 L647.2,594.6Z M647.6,591.2 L652.3,590.8 L647.8,588.6Z M648.3,585.2 L653.7,583.6 L648.5,582.6Z M648.5,583.2 L652.4,581.3 L648.7,580.6Z M648.7,581.2 L653.9,579.4 L648.9,578.6Z M649.2,575.2 L652.4,573.6 L649.4,572.6Z M649.6,571.2 L653.1,571.1 L649.8,568.6Z M649.7,569.2 L654.2,568.5 L649.9,566.6Z M650.2,563.1 L654.8,563.1 L650.4,560.5Z M650.9,555.1 L653.7,554.8 L651.1,552.5Z M651.0,553.1 L659.8,549.8 L651.2,550.5Z M651.1,551.1 L654.7,549.8 L651.3,548.5Z M651.3,549.1 L655.0,547.1 L651.5,546.5Z M651.5,545.1 L656.9,542.6 L651.7,542.5Z M651.9,539.0 L657.0,539.2 L652.1,536.4Z M652.2,533.0 L655.5,532.8 L652.4,530.4Z M652.4,529.0 L656.2,527.7 L652.6,526.4Z M652.9,518.9 L658.7,519.5 L653.1,516.3Z M653.1,514.9 L657.9,514.9 L653.3,512.3Z M653.3,508.8 L656.5,506.9 L653.5,506.2Z M653.6,500.8 L661.8,503.7 L653.8,498.2Z M653.7,498.8 L657.2,497.9 L653.9,496.2Z M653.8,491.9 L657.4,488.8 L653.0,489.4Z M653.4,490.5 L656.0,487.7 L652.2,488.2Z M648.2,485.8 L649.0,478.0 L645.6,485.6Z M646.2,485.6 L643.7,479.4 L643.6,485.4Z M640.2,485.2 L636.8,478.1 L637.7,485.0Z M636.8,484.8 L634.0,481.8 L634.2,485.1Z M635.4,484.8 L631.6,477.1 L632.9,485.7Z M634.0,485.2 L632.2,480.9 L631.7,486.5Z M631.4,486.6 L626.9,486.1 L629.8,488.7Z M630.4,487.7 L625.6,487.4 L629.2,490.0Z" fill="#111" stroke="#111" stroke-width="0.6" stroke-linejoin="miter"/>
<path d="M628.6,491.5 L627.3,493.4 L626.3,495.4 L626.3,497.4 L626.1,499.4 L627.8,501.5 L628.1,503.6 L627.6,505.6 L626.0,507.5 L627.4,509.6 L624.6,511.4 L624.6,513.4 L623.8,515.4 L624.8,517.5 L624.3,519.5 L626.0,521.6 L625.2,523.6 L625.7,525.6 L624.3,527.5 L624.1,529.5 L624.1,531.6 L621.6,533.4 L623.0,535.5 L623.5,537.6 L623.7,539.6 L622.3,541.5 L623.3,543.6 L622.4,545.6 L622.6,547.6 L620.5,549.5 L620.0,551.5 L620.6,553.5 L622.1,555.7 L622.7,557.7 L622.2,559.7 L621.5,561.7 L620.2,563.6 L620.9,565.7 L619.1,567.5 L619.6,569.6 L621.0,571.7 L619.2,573.6 L619.7,575.7 L620.8,577.8 L621.0,579.8 L619.8,581.7 L619.3,583.7 L619.6,585.8 L619.7,587.8 L617.8,589.7 L620.0,591.9 L620.1,593.9 L620.3,595.9 L618.8,597.8 L618.9,599.9 L619.4,601.9 L618.1,603.8 L618.3,605.9 L617.8,607.8 L618.4,609.9 L619.4,612.0 L619.7,614.1 L619.8,616.1 L619.3,618.1 L617.9,620.0 L618.7,621.6 L617.3,623.6 L618.4,625.2 L620.6,625.7 L622.4,626.0 L623.0,627.8 L624.5,628.4 L626.0,629.2 L628.0,628.3 L630.0,628.4 L631.9,630.4 L633.9,630.7 L636.1,628.5 L637.5,629.0 L638.9,628.3 L640.2,627.7 L641.5,627.0 L644.0,627.1 L644.9,625.5 L646.1,624.0 L644.4,622.0 L645.5,620.1 L646.0,618.1 L645.9,616.1 L644.4,613.9 L645.6,612.0 L646.1,610.0 L648.4,608.2 L648.6,606.2 L648.0,604.1 L648.1,602.1 L646.6,599.9 L646.2,597.9 L647.3,596.0 L646.9,593.9 L649.7,592.1 L648.6,590.0 L648.8,588.0 L649.7,586.0 L648.9,584.0 L648.9,581.9 L648.3,579.9 L648.6,577.9 L649.4,575.9 L650.7,574.0 L651.7,572.0 L651.7,570.0 L650.5,567.9 L650.8,565.9 L650.4,563.9 L650.1,561.8 L650.0,559.8 L651.7,557.9 L652.3,555.9 L653.0,554.0 L653.4,552.0 L653.4,550.0 L651.1,547.8 L650.9,545.7 L651.4,543.7 L651.2,541.7 L653.4,539.9 L653.2,537.8 L653.7,535.8 L653.2,533.8 L654.6,531.9 L654.0,529.8 L652.7,527.7 L651.6,525.6 L652.9,523.7 L654.2,521.7 L654.1,519.7 L655.3,517.8 L654.7,515.7 L655.6,513.8 L654.1,511.6 L654.0,509.6 L653.8,507.6 L652.5,505.4 L653.3,503.5 L653.9,501.5 L655.3,499.6 L654.7,497.5 L655.6,495.6 L655.4,493.5 L653.5,492.0 L653.3,490.7 L652.1,489.7 L652.4,487.7 L652.3,485.4 L650.1,485.5 L648.6,484.8 L646.9,485.5 L644.9,485.5 L642.9,485.3 L641.0,484.8 L639.0,484.3 L637.1,483.2 L635.4,483.4 L634.0,484.7 L631.9,484.1 L630.3,485.0 L629.9,487.1 L630.2,489.0 L628.1,489.8Z" fill="#a88d70"/>
<g clip-path="url(#fc12)"><g filter="url(#blur2)">
<path d="M627.6,423.2 L660.3,494.3" stroke="#6b5e52" stroke-width="8.6" opacity="0.88" stroke-linecap="round"/>
<path d="M641.6,428.5 L643.4,462.9" stroke="#3f352c" stroke-width="3.7" opacity="0.6" stroke-linecap="round"/>
<path d="M626.6,436.0 L659.2,509.4" stroke="#d9bb90" stroke-width="8.6" opacity="0.86" stroke-linecap="round"/>
<path d="M625.0,457.1 L658.5,518.7" stroke="#6b5e52" stroke-width="8.8" opacity="0.85" stroke-linecap="round"/>
<path d="M633.4,462.7 L644.7,493.1" stroke="#3f352c" stroke-width="5.0" opacity="0.6" stroke-linecap="round"/>
<path d="M623.8,472.8 L657.5,531.2" stroke="#d9bb90" stroke-width="9.6" opacity="0.94" stroke-linecap="round"/>
<path d="M622.3,492.5 L654.3,572.6" stroke="#5e5248" stroke-width="11.4" opacity="0.80" stroke-linecap="round"/>
<path d="M621.2,507.6 L653.3,586.4" stroke="#d9bb90" stroke-width="7.7" opacity="0.93" stroke-linecap="round"/>
<path d="M619.9,524.9 L652.5,597.1" stroke="#54483d" stroke-width="6.2" opacity="0.79" stroke-linecap="round"/>
<path d="M632.6,531.5 L643.1,567.1" stroke="#3f352c" stroke-width="3.7" opacity="0.6" stroke-linecap="round"/>
<path d="M618.7,540.0 L651.2,614.3" stroke="#d9bb90" stroke-width="5.1" opacity="0.73" stroke-linecap="round"/>
<path d="M617.4,557.3 L650.3,626.0" stroke="#54483d" stroke-width="9.3" opacity="0.79" stroke-linecap="round"/>
<path d="M616.1,574.9 L648.9,644.1" stroke="#d9bb90" stroke-width="5.4" opacity="0.74" stroke-linecap="round"/>
<path d="M615.2,586.7 L647.4,663.3" stroke="#54483d" stroke-width="11.5" opacity="0.87" stroke-linecap="round"/>
<path d="M614.1,600.5 L646.8,672.3" stroke="#d9bb90" stroke-width="5.1" opacity="0.89" stroke-linecap="round"/>
<path d="M612.9,617.1 L645.9,683.9" stroke="#5e5248" stroke-width="8.1" opacity="0.79" stroke-linecap="round"/>
<path d="M611.9,629.7 L644.7,698.9" stroke="#d9bb90" stroke-width="9.1" opacity="0.90" stroke-linecap="round"/>
</g>
<path d="M643.2,523.1 L645.2,527.1 M623.0,623.8 L625.8,629.4 M642.4,504.1 L645.2,509.8 M624.0,615.7 L626.6,620.9 M645.2,574.2 L649.0,582.1 M639.0,628.8 L640.7,632.3 M619.2,595.3 L622.9,602.9 M642.1,530.6 L644.5,535.6 M647.0,483.1 L649.3,487.7 M618.8,599.1 L621.8,605.3 M632.9,486.8 L636.1,493.2 M636.3,612.1 L638.4,616.4 M629.7,621.8 L633.3,629.1 M650.3,532.5 L653.7,539.3 M655.3,484.9 L658.1,490.7 M637.3,527.5 L640.4,533.8 M626.3,553.9 L628.3,557.9 M627.8,544.0 L630.2,548.9 M640.2,517.1 L642.3,521.3 M640.8,630.4 L644.6,638.3 M642.0,600.6 L645.5,607.7 M628.5,604.6 L632.1,612.0 M628.2,503.9 L631.9,511.4 M642.2,506.2 L644.3,510.5 M636.3,517.4 L640.1,525.2 M633.3,624.5 L635.2,628.3 M647.7,561.2 L650.5,566.9 M645.8,622.2 L649.3,629.5 M624.9,573.4 L628.6,581.1 M644.6,541.7 L648.3,549.3 M643.2,540.5 L645.1,544.5 M617.9,613.6 L620.1,618.0 M643.8,600.0 L647.3,607.0 M633.8,572.0 L636.9,578.2 M634.4,604.9 L637.6,611.5 M636.7,586.2 L639.7,592.4 M629.1,482.8 L631.5,487.5 M626.2,607.9 L629.6,614.8 M649.6,578.5 L651.9,583.3 M647.5,556.1 L650.3,561.8 M621.3,624.1 L623.8,629.3 M629.4,623.3 L633.0,630.6 M624.0,551.5 L627.4,558.5 M643.9,631.5 L647.3,638.4 M634.7,612.9 L637.1,617.9 M643.1,494.6 L646.1,500.6 M626.5,509.8 L629.2,515.2 M641.3,593.9 L643.7,598.8 M628.0,520.3 L631.7,527.7 M640.5,573.6 L642.3,577.2 M635.3,589.1 L639.2,597.0 M620.2,579.4 L622.2,583.5 M636.7,591.4 L639.5,597.1 M627.3,580.1 L629.8,585.2 M642.2,568.8 L644.0,572.5 M622.5,562.3 L625.9,569.4 M632.9,600.7 L635.6,606.2 M651.1,559.1 L654.9,566.9 M634.4,584.6 L637.8,591.5 M636.1,619.1 L639.4,625.7 M651.0,530.5 L653.7,536.1 M637.3,558.7 L640.9,566.1 M624.6,622.0 L627.4,627.6 M627.5,583.5 L629.8,588.2 M623.5,626.8 L626.8,633.4 M646.6,589.7 L648.9,594.4 M627.2,557.8 L629.0,561.6 M642.5,565.3 L645.7,571.7 M636.9,606.6 L639.0,610.9 M632.8,485.8 L636.6,493.5 M620.4,570.8 L623.1,576.2 M643.8,484.4 L646.7,490.4 M632.1,542.3 L634.2,546.4 M634.4,579.9 L636.4,584.0 M645.3,520.3 L647.3,524.3 M649.1,561.7 L651.4,566.4 M631.8,582.8 L634.1,587.4 M633.1,590.9 L636.2,597.3 M636.1,535.5 L639.9,543.2 M621.8,596.5 L625.0,603.0 M650.5,526.1 L653.0,531.2 M632.8,519.2 L634.7,523.0 M638.3,564.8 L640.9,570.1 M640.7,491.7 L642.7,495.7 M648.3,583.9 L651.2,589.7 M644.0,579.6 L647.0,585.7 M626.0,503.0 L628.5,508.0" stroke="#3e342b" stroke-width="0.5" opacity="0.45"/>
<path d="M646.6,530.8 L649.0,535.7 M649.8,533.0 L652.4,538.3 M625.3,561.7 L628.8,568.8 M629.9,489.0 L633.7,496.8 M634.0,610.2 L636.9,616.2 M640.3,509.8 L643.2,515.8 M635.5,603.8 L637.4,607.7 M651.8,523.1 L654.3,528.1 M642.7,509.8 L644.8,514.3 M631.5,480.2 L633.9,485.1 M648.4,589.9 L650.9,595.1 M648.7,547.5 L652.3,554.8 M636.4,507.8 L639.7,514.5 M631.2,526.0 L634.9,533.7 M645.0,517.1 L646.8,520.7 M637.4,613.3 L639.4,617.4 M632.8,616.8 L635.9,623.2 M636.2,561.2 L638.9,566.6 M654.8,511.0 L657.5,516.6 M639.4,605.3 L642.4,611.4 M646.9,608.5 L649.7,614.3 M624.9,631.4 L628.1,637.9 M630.2,619.2 L632.7,624.1 M630.1,625.1 L633.7,632.6 M644.0,543.5 L646.5,548.5 M646.3,576.8 L649.5,583.2 M634.1,483.7 L637.0,489.6 M639.2,546.4 L642.9,554.2 M646.4,486.5 L648.5,491.0 M639.6,564.9 L641.7,569.2 M633.8,503.3 L636.8,509.5 M652.0,505.0 L653.9,508.8 M637.2,598.9 L640.0,604.7 M631.9,546.1 L634.0,550.2 M639.3,604.7 L641.5,609.1 M654.7,499.9 L657.4,505.3 M653.3,516.2 L656.4,522.5 M648.9,574.9 L651.3,580.0 M620.6,602.3 L624.5,610.1 M627.9,632.9 L629.7,636.6 M620.9,597.2 L623.1,601.7 M639.6,589.3 L641.8,593.8 M628.9,606.5 L632.5,614.0 M650.9,490.5 L653.0,494.7 M625.6,623.2 L629.1,630.5 M648.3,501.9 L652.2,509.7 M643.7,586.0 L646.6,591.9 M633.0,618.6 L635.8,624.4 M635.6,560.8 L637.9,565.4 M629.0,614.1 L632.5,621.2 M641.1,506.5 L644.2,512.7 M646.8,564.2 L649.7,570.0 M642.0,536.7 L645.3,543.4 M646.7,615.8 L650.4,623.5 M629.2,561.4 L631.9,566.8 M635.4,501.4 L638.8,508.2 M646.6,501.6 L649.7,507.7 M621.8,605.0 L625.4,612.3 M634.1,511.9 L636.9,517.6 M633.6,559.3 L637.2,566.5 M641.6,498.1 L643.4,501.8 M639.1,567.9 L642.7,575.2 M620.9,591.3 L624.0,597.5 M632.0,583.5 L634.8,589.3 M634.0,539.4 L637.8,547.0 M628.3,504.1 L630.6,508.6 M633.3,553.9 L635.5,558.5 M642.7,564.9 L646.2,571.9 M636.4,480.7 L640.1,488.2 M635.7,600.0 L638.5,605.8 M639.5,615.1 L641.6,619.3 M626.8,536.5 L629.7,542.3 M631.2,607.0 L634.3,613.3 M639.1,573.2 L641.3,577.7 M653.6,523.9 L655.5,527.7 M650.5,539.3 L653.1,544.4 M621.2,628.1 L623.4,632.6 M649.1,560.0 L652.2,566.3 M652.0,530.3 L655.4,537.3 M636.9,484.9 L639.8,490.9 M631.5,494.0 L633.9,499.0 M640.0,618.3 L643.3,625.0 M630.3,579.0 L632.3,583.0 M648.8,589.6 L651.6,595.2 M648.3,598.4 L651.2,604.4 M624.7,612.2 L627.5,617.8" stroke="#e6cfa8" stroke-width="0.5" opacity="0.5"/>
</g>
<path d="M628.6,491.5 L627.3,493.4 L626.3,495.4 L626.3,497.4 L626.1,499.4 L627.8,501.5 L628.1,503.6 L627.6,505.6 L626.0,507.5 L627.4,509.6 L624.6,511.4 L624.6,513.4 L623.8,515.4 L624.8,517.5 L624.3,519.5 L626.0,521.6 L625.2,523.6 L625.7,525.6 L624.3,527.5 L624.1,529.5 L624.1,531.6 L621.6,533.4 L623.0,535.5 L623.5,537.6 L623.7,539.6 L622.3,541.5 L623.3,543.6 L622.4,545.6 L622.6,547.6 L620.5,549.5 L620.0,551.5 L620.6,553.5 L622.1,555.7 L622.7,557.7 L622.2,559.7 L621.5,561.7 L620.2,563.6 L620.9,565.7 L619.1,567.5 L619.6,569.6 L621.0,571.7 L619.2,573.6 L619.7,575.7 L620.8,577.8 L621.0,579.8 L619.8,581.7 L619.3,583.7 L619.6,585.8 L619.7,587.8 L617.8,589.7 L620.0,591.9 L620.1,593.9 L620.3,595.9 L618.8,597.8 L618.9,599.9 L619.4,601.9 L618.1,603.8 L618.3,605.9 L617.8,607.8 L618.4,609.9 L619.4,612.0 L619.7,614.1 L619.8,616.1 L619.3,618.1 L617.9,620.0 L618.7,621.6 L617.3,623.6 L618.4,625.2 L620.6,625.7 L622.4,626.0 L623.0,627.8 L624.5,628.4 L626.0,629.2 L628.0,628.3 L630.0,628.4 L631.9,630.4 L633.9,630.7 L636.1,628.5 L637.5,629.0 L638.9,628.3 L640.2,627.7 L641.5,627.0 L644.0,627.1 L644.9,625.5 L646.1,624.0 L644.4,622.0 L645.5,620.1 L646.0,618.1 L645.9,616.1 L644.4,613.9 L645.6,612.0 L646.1,610.0 L648.4,608.2 L648.6,606.2 L648.0,604.1 L648.1,602.1 L646.6,599.9 L646.2,597.9 L647.3,596.0 L646.9,593.9 L649.7,592.1 L648.6,590.0 L648.8,588.0 L649.7,586.0 L648.9,584.0 L648.9,581.9 L648.3,579.9 L648.6,577.9 L649.4,575.9 L650.7,574.0 L651.7,572.0 L651.7,570.0 L650.5,567.9 L650.8,565.9 L650.4,563.9 L650.1,561.8 L650.0,559.8 L651.7,557.9 L652.3,555.9 L653.0,554.0 L653.4,552.0 L653.4,550.0 L651.1,547.8 L650.9,545.7 L651.4,543.7 L651.2,541.7 L653.4,539.9 L653.2,537.8 L653.7,535.8 L653.2,533.8 L654.6,531.9 L654.0,529.8 L652.7,527.7 L651.6,525.6 L652.9,523.7 L654.2,521.7 L654.1,519.7 L655.3,517.8 L654.7,515.7 L655.6,513.8 L654.1,511.6 L654.0,509.6 L653.8,507.6 L652.5,505.4 L653.3,503.5 L653.9,501.5 L655.3,499.6 L654.7,497.5 L655.6,495.6 L655.4,493.5 L653.5,492.0 L653.3,490.7 L652.1,489.7 L652.4,487.7 L652.3,485.4 L650.1,485.5 L648.6,484.8 L646.9,485.5 L644.9,485.5 L642.9,485.3 L641.0,484.8 L639.0,484.3 L637.1,483.2 L635.4,483.4 L634.0,484.7 L631.9,484.1 L630.3,485.0 L629.9,487.1 L630.2,489.0 L628.1,489.8Z" fill="none" stroke="#111" stroke-width="2.3" stroke-linejoin="round"/>
<path d="M641.7,503.9 L725.5,503.9" stroke="#c04c47" stroke-width="2.3" fill="none"/>
<circle cx="641.7" cy="503.9" r="6.2" fill="#e5413a"/>
<path d="M604.4,642.8 L730.2,642.8" stroke="#c04c47" stroke-width="2.3" fill="none"/>
<circle cx="604.4" cy="642.8" r="6.2" fill="#e5413a"/>
<path d="M412.5,1006.4 L417.5,1142.5 L407,1143 L404,1309 C404,1357 445,1383.5 530,1383.5 C615,1383.5 656,1357 656,1309 L656,1143 L642.2,1142.5 L646.4,1006.4 Z" fill="#fff" stroke="none"/>
<path d="M412.5,1006.4 L417.5,1142.5 M646.4,1006.4 L642.2,1142.5" fill="none" stroke="#161616" stroke-width="1.5"/>
<path d="M415,1009 L420,1141 L431,1141 L427.5,1009 M643.8,1009 L639.8,1141 L627,1141 L631,1009 M415,1009 L644,1009" fill="none" stroke="#2a2a2a" stroke-width="0.9" stroke-dasharray="2.6 1.6"/>
<circle cx="419.4" cy="1021" r="3.4" fill="#5a5a5a" stroke="#222" stroke-width="0.8"/><circle cx="419.4" cy="1021" r="1.3" fill="#aaa"/>
<circle cx="421.9" cy="1074.4" r="3.4" fill="#5a5a5a" stroke="#222" stroke-width="0.8"/><circle cx="421.9" cy="1074.4" r="1.3" fill="#aaa"/>
<circle cx="423.75" cy="1128" r="3.4" fill="#5a5a5a" stroke="#222" stroke-width="0.8"/><circle cx="423.75" cy="1128" r="1.3" fill="#aaa"/>
<circle cx="638.3" cy="1021" r="3.4" fill="#5a5a5a" stroke="#222" stroke-width="0.8"/><circle cx="638.3" cy="1021" r="1.3" fill="#aaa"/>
<circle cx="636.4" cy="1074.4" r="3.4" fill="#5a5a5a" stroke="#222" stroke-width="0.8"/><circle cx="636.4" cy="1074.4" r="1.3" fill="#aaa"/>
<circle cx="634.2" cy="1128.3" r="3.4" fill="#5a5a5a" stroke="#222" stroke-width="0.8"/><circle cx="634.2" cy="1128.3" r="1.3" fill="#aaa"/>
<rect x="411" y="990.5" width="235.4" height="16" fill="#fff" stroke="#161616" stroke-width="1.5"/>
<path d="M528.3,990.5 L528.3,1006.5" stroke="#161616" stroke-width="1.2"/>
<path d="M413.5,1002 L413.5,993 L526,993 L526,1002 M531,1005 L531,993 L643.5,993 L643.5,1005" fill="none" stroke="#2a2a2a" stroke-width="0.9" stroke-dasharray="2.6 1.6"/>
<path d="M413,1004 L526,1004" stroke="#3a3a3a" stroke-width="4"/><path d="M413,1004 L526,1004" stroke="#999" stroke-width="2.6" stroke-dasharray="0.9 1.1"/>
<ellipse cx="405" cy="1005.5" rx="4" ry="3" fill="#ddd" stroke="#444" stroke-width="1"/>
<path d="M413.0,1143.0 L410.0,1309.0 C410.0,1352.5 455.6,1376.0 530.0,1376.0 C604.1,1376.0 649.5,1352.5 649.5,1309.0 L649.5,1143.0" fill="none" stroke="#333" stroke-width="6"/>
<path d="M413.0,1143.0 L410.0,1309.0 C410.0,1352.5 455.6,1376.0 530.0,1376.0 C604.1,1376.0 649.5,1352.5 649.5,1309.0 L649.5,1143.0" fill="none" stroke="#999" stroke-width="3.8" stroke-dasharray="0.8 1.2"/>
<path d="M416.0,1143.0 L413.0,1309.0 C413.0,1350.8 457.5,1373.3 530.0,1373.3 C601.3,1373.3 645.0,1350.8 645.0,1309.0 L645.0,1143.0" fill="none" stroke="#161616" stroke-width="1.3"/>
<path d="M409.0,1143.0 L406.0,1309.0 C406.0,1356.1 453.1,1381.5 530.0,1381.5 C606.9,1381.5 654.0,1356.1 654.0,1309.0 L654.0,1143.0" fill="none" stroke="#333" stroke-width="0.9" stroke-dasharray="2.5 1.5"/>
<path d="M407.0,1143.0 L404.0,1309.0 C404.0,1357.4 451.9,1383.5 530.0,1383.5 C608.1,1383.5 656.0,1357.4 656.0,1309.0 L656.0,1143.0" fill="none" stroke="#161616" stroke-width="1.6"/>
<rect x="517.6" y="1373.5" width="14.6" height="86" fill="#fff" stroke="#161616" stroke-width="1.5"/>
<path d="M519.8,1384 L519.8,1457 L530,1457 L530,1384" fill="none" stroke="#2a2a2a" stroke-width="0.9" stroke-dasharray="2.6 1.6"/>
<path d="M413.6,1237 L495.6,1256.4" stroke="#161616" stroke-width="1.1"/>
<path d="M413.6,1239.2 L495.6,1258.6000000000001" stroke="#2a2a2a" stroke-width="0.9" stroke-dasharray="2.6 1.6"/>
<path d="M413.6,1242 L495.6,1261.4" stroke="#2a2a2a" stroke-width="0.9" stroke-dasharray="2.6 1.6"/>
<path d="M563,1253.6 L646,1235.8" stroke="#161616" stroke-width="1.1"/>
<path d="M563,1255.8 L646,1238.0" stroke="#2a2a2a" stroke-width="0.9" stroke-dasharray="2.6 1.6"/>
<path d="M563,1258.6 L646,1240.8" stroke="#2a2a2a" stroke-width="0.9" stroke-dasharray="2.6 1.6"/>
<clipPath id="gclip"><rect x="400" y="1142" width="300" height="200"/></clipPath>
<path d="M530,1105.5 C566,1105.5 579,1112 578,1140 L561,1270 C558,1287 545,1292.5 529,1292.5 C513,1292.5 502,1287 499.5,1272 L483,1140 C481,1112 495,1105.5 530,1105.5 Z" fill="#fff" stroke="#161616" stroke-width="1.5"/>
<path d="M530,1105.5 C566,1105.5 579,1112 578,1140 L561,1270 C558,1287 545,1292.5 529,1292.5 C513,1292.5 502,1287 499.5,1272 L483,1140 C481,1112 495,1105.5 530,1105.5 Z" fill="#d4d5d7" stroke="none" clip-path="url(#gclip)"/>
<path d="M483.5,1142 L577.5,1142" stroke="#333" stroke-width="1"/>
<path d="M530,1101.5 C570,1101.5 583,1109 582,1140 L565,1271 C561.5,1291 547,1296.5 529,1296.5 C511,1296.5 498,1291 495.5,1273 L479,1140 C477,1109 491,1101.5 530,1101.5 Z" fill="none" stroke="#2a2a2a" stroke-width="0.9" stroke-dasharray="2.6 1.6"/>
<g><rect x="522.0" y="1098.0" width="20.0" height="7.7" fill="#fff" stroke="#161616" stroke-width="1.1"/><path d="M523.8,1099.8 L540.2,1103.9 M540.2,1099.8 L523.8,1103.9" stroke="#555" stroke-width="0.6"/></g>
<g><rect x="473.8" y="1120.0" width="7.5" height="20.0" fill="#fff" stroke="#161616" stroke-width="1.1"/><path d="M475.6,1121.8 L479.4,1138.2 M479.4,1121.8 L475.6,1138.2" stroke="#555" stroke-width="0.6"/></g>
<g><rect x="578.0" y="1120.0" width="8.0" height="20.0" fill="#fff" stroke="#161616" stroke-width="1.1"/><path d="M579.8,1121.8 L584.2,1138.2 M584.2,1121.8 L579.8,1138.2" stroke="#555" stroke-width="0.6"/></g>
<g transform="rotate(-7.0 482.4 1179.7)"><rect x="477.5" y="1169.6" width="9.7" height="20.1" fill="#fff" stroke="#161616" stroke-width="1.1"/><path d="M479.3,1171.4 L485.4,1187.9 M485.4,1171.4 L479.3,1187.9" stroke="#555" stroke-width="0.6"/></g>
<g transform="rotate(7.0 576.9 1179.3)"><rect x="572.0" y="1169.0" width="9.7" height="20.7" fill="#fff" stroke="#161616" stroke-width="1.1"/><path d="M573.8,1170.8 L579.9,1187.9 M579.9,1170.8 L573.8,1187.9" stroke="#555" stroke-width="0.6"/></g>
<g transform="rotate(-7.0 487.6 1225.5)"><rect x="482.4" y="1215.0" width="10.4" height="21.0" fill="#fff" stroke="#161616" stroke-width="1.1"/><path d="M484.2,1216.8 L491.0,1234.2 M491.0,1216.8 L484.2,1234.2" stroke="#555" stroke-width="0.6"/></g>
<g transform="rotate(7.0 571.9 1226.5)"><rect x="567.0" y="1216.0" width="9.8" height="21.0" fill="#fff" stroke="#161616" stroke-width="1.1"/><path d="M568.8,1217.8 L575.0,1235.2 M575.0,1217.8 L568.8,1235.2" stroke="#555" stroke-width="0.6"/></g>
<g transform="rotate(-7.0 494.1 1274.1)"><rect x="489.3" y="1264.0" width="9.7" height="20.2" fill="#fff" stroke="#161616" stroke-width="1.1"/><path d="M491.1,1265.8 L497.2,1282.4 M497.2,1265.8 L491.1,1282.4" stroke="#555" stroke-width="0.6"/></g>
<g transform="rotate(7.0 565.2 1274.0)"><rect x="560.0" y="1264.0" width="10.5" height="20.0" fill="#fff" stroke="#161616" stroke-width="1.1"/><path d="M561.8,1265.8 L568.7,1282.2 M568.7,1265.8 L561.8,1282.2" stroke="#555" stroke-width="0.6"/></g>
<g><rect x="519.0" y="1294.0" width="21.0" height="9.0" fill="#fff" stroke="#161616" stroke-width="1.1"/><path d="M520.8,1295.8 L538.2,1301.2 M538.2,1295.8 L520.8,1301.2" stroke="#555" stroke-width="0.6"/></g>
<path d="M416.4,1150 C480,1173.2 590,1173.2 642,1151 L641.5,1144 C590,1166.9 480,1166.9 416.4,1142.5 Z" fill="#fff" stroke="#161616" stroke-width="1.5"/>
<rect x="407.5" y="1141.5" width="8" height="3" fill="#222"/>
<rect x="644" y="1141.5" width="8" height="3" fill="#222"/>
<path d="M654.5,1159 C658.5,1167 658.5,1167 659.5,1175 C656.5,1177 653.5,1169 654.5,1165" fill="#e6e6e6" stroke="#555" stroke-width="1"/>
<path d="M653,1304.5 C701,1304.5 716,1314 713.5,1338 L691.5,1494 C689,1508 675,1514 652.5,1514 C630,1514 617,1508 614.5,1494 L592.5,1338 C590,1314 605,1304.5 653,1304.5 Z" fill="#fff" stroke="#161616" stroke-width="1.4"/>
<path d="M653,1308.5 C697,1308.5 712,1317 709.5,1338 L687.7,1492 C685.5,1504 673,1510 652.5,1510 C632,1510 619.5,1504 617.5,1492 L596.5,1338 C594,1317 609,1308.5 653,1308.5 Z" fill="none" stroke="#2a2a2a" stroke-width="0.9" stroke-dasharray="2.6 1.6"/>
<g><rect x="645.0" y="1307.3" width="20.4" height="8.4" fill="#fff" stroke="#161616" stroke-width="1.1"/><path d="M646.8,1309.1 L663.6,1313.9 M663.6,1309.1 L646.8,1313.9" stroke="#555" stroke-width="0.6"/></g>
<g transform="rotate(-8.0 600.1 1338.4)"><rect x="595.4" y="1328.3" width="9.4" height="20.2" fill="#fff" stroke="#161616" stroke-width="1.1"/><path d="M597.2,1330.1 L603.0,1346.7 M603.0,1330.1 L597.2,1346.7" stroke="#555" stroke-width="0.6"/></g>
<g transform="rotate(8.0 705.1 1338.2)"><rect x="700.8" y="1328.0" width="8.7" height="20.5" fill="#fff" stroke="#161616" stroke-width="1.1"/><path d="M702.6,1329.8 L707.7,1346.7 M707.7,1329.8 L702.6,1346.7" stroke="#555" stroke-width="0.6"/></g>
<g transform="rotate(-8.0 605.5 1387.8)"><rect x="600.4" y="1378.0" width="10.1" height="19.6" fill="#fff" stroke="#161616" stroke-width="1.1"/><path d="M602.2,1379.8 L608.7,1395.8 M608.7,1379.8 L602.2,1395.8" stroke="#555" stroke-width="0.6"/></g>
<g transform="rotate(8.0 698.7 1387.8)"><rect x="693.6" y="1378.0" width="10.1" height="19.6" fill="#fff" stroke="#161616" stroke-width="1.1"/><path d="M695.4,1379.8 L701.9,1395.8 M701.9,1379.8 L695.4,1395.8" stroke="#555" stroke-width="0.6"/></g>
<g transform="rotate(-8.0 612.4 1434.4)"><rect x="607.0" y="1424.3" width="10.8" height="20.2" fill="#fff" stroke="#161616" stroke-width="1.1"/><path d="M608.8,1426.1 L616.0,1442.7 M616.0,1426.1 L608.8,1442.7" stroke="#555" stroke-width="0.6"/></g>
<g transform="rotate(8.0 692.0 1434.2)"><rect x="687.0" y="1424.0" width="10.0" height="20.5" fill="#fff" stroke="#161616" stroke-width="1.1"/><path d="M688.8,1425.8 L695.2,1442.7 M695.2,1425.8 L688.8,1442.7" stroke="#555" stroke-width="0.6"/></g>
<g transform="rotate(-8.0 618.5 1482.3)"><rect x="613.4" y="1472.7" width="10.1" height="19.3" fill="#fff" stroke="#161616" stroke-width="1.1"/><path d="M615.2,1474.5 L621.7,1490.2 M621.7,1474.5 L615.2,1490.2" stroke="#555" stroke-width="0.6"/></g>
<g transform="rotate(8.0 686.3 1482.3)"><rect x="681.3" y="1472.7" width="10.1" height="19.3" fill="#fff" stroke="#161616" stroke-width="1.1"/><path d="M683.1,1474.5 L689.6,1490.2 M689.6,1474.5 L683.1,1490.2" stroke="#555" stroke-width="0.6"/></g>
<g><rect x="642.3" y="1503.0" width="20.2" height="7.0" fill="#fff" stroke="#161616" stroke-width="1.1"/><path d="M644.1,1504.8 L660.7,1508.2 M660.7,1504.8 L644.1,1508.2" stroke="#555" stroke-width="0.6"/></g>
<clipPath id="fc21"><path d="M363.1,1003.5 L362.4,1005.5 L363.2,1007.5 L364.2,1009.5 L363.0,1011.5 L362.8,1013.6 L362.5,1015.6 L361.2,1017.7 L361.0,1019.7 L362.9,1021.6 L363.3,1023.6 L362.2,1025.7 L362.9,1027.7 L363.1,1029.7 L362.3,1031.7 L363.0,1033.7 L362.6,1035.8 L362.1,1037.8 L362.0,1039.8 L362.4,1041.8 L363.6,1043.8 L364.1,1045.8 L364.0,1047.8 L363.0,1049.9 L361.9,1051.9 L361.6,1054.0 L363.1,1055.9 L361.7,1058.0 L363.8,1059.9 L363.0,1062.0 L363.5,1064.0 L363.2,1066.0 L364.1,1068.0 L362.6,1070.1 L364.2,1072.0 L361.8,1074.1 L362.9,1076.1 L364.5,1078.1 L365.1,1080.1 L364.3,1082.1 L365.5,1084.1 L364.5,1086.1 L363.5,1088.2 L364.5,1090.2 L364.3,1092.2 L364.4,1094.2 L365.0,1096.2 L365.1,1098.2 L366.6,1100.2 L365.8,1102.2 L364.5,1104.3 L366.2,1106.3 L363.7,1108.4 L365.8,1110.3 L364.8,1112.4 L365.9,1114.3 L366.9,1116.3 L366.1,1118.4 L367.1,1120.4 L365.7,1122.4 L365.4,1124.4 L365.7,1126.5 L365.6,1128.5 L365.9,1130.5 L367.6,1132.4 L367.9,1134.5 L367.4,1136.5 L367.3,1138.1 L369.4,1139.0 L369.8,1140.4 L370.4,1141.8 L370.8,1144.1 L372.9,1143.7 L374.5,1143.8 L376.0,1143.1 L378.0,1142.8 L380.0,1143.6 L382.0,1142.9 L384.0,1143.0 L386.1,1145.5 L388.0,1143.4 L389.4,1143.1 L391.3,1143.6 L391.9,1141.6 L393.6,1141.2 L394.1,1139.7 L394.5,1138.2 L396.9,1137.3 L397.6,1135.5 L397.5,1133.5 L395.9,1131.5 L396.1,1129.5 L395.3,1127.5 L396.3,1125.4 L394.7,1123.5 L396.2,1121.4 L395.5,1119.4 L397.3,1117.3 L397.0,1115.3 L396.4,1113.3 L396.6,1111.3 L396.6,1109.3 L396.4,1107.3 L394.7,1105.3 L396.8,1103.2 L397.3,1101.2 L396.5,1099.2 L397.9,1097.1 L395.5,1095.2 L396.5,1093.1 L394.9,1091.2 L395.3,1089.1 L395.8,1087.1 L395.3,1085.1 L396.8,1083.0 L396.7,1081.0 L397.6,1079.0 L397.2,1077.0 L394.8,1075.0 L395.8,1073.0 L394.2,1071.0 L394.9,1069.0 L395.8,1066.9 L396.1,1064.9 L395.6,1062.9 L396.2,1060.9 L394.9,1058.9 L394.0,1056.9 L394.2,1054.9 L394.3,1052.9 L394.9,1050.8 L394.0,1048.8 L394.0,1046.8 L396.0,1044.7 L395.9,1042.7 L394.0,1040.8 L393.7,1038.8 L393.2,1036.8 L392.9,1034.8 L393.6,1032.7 L393.2,1030.7 L394.8,1028.6 L393.6,1026.7 L394.3,1024.6 L392.4,1022.7 L392.8,1020.6 L392.2,1018.6 L391.2,1016.7 L392.6,1014.6 L391.8,1012.6 L391.7,1010.6 L392.8,1008.5 L392.0,1006.5 L393.0,1004.5 L392.0,1002.5 L390.5,1001.2 L389.0,1000.3 L388.7,999.0 L387.9,997.9 L388.0,995.2 L386.4,994.6 L384.6,994.4 L383.0,995.4 L381.0,994.3 L379.0,995.6 L377.0,995.3 L375.0,995.8 L373.0,995.7 L371.0,995.7 L369.3,994.9 L367.8,995.6 L366.7,996.8 L365.4,997.8 L364.7,999.2 L363.9,1000.5 L364.6,1002.2Z"/></clipPath>
<path d="M363.7,1004.2 L358.9,1004.4 L363.8,1006.8Z M363.7,1008.2 L359.5,1011.1 L363.7,1010.8Z M363.6,1010.2 L360.7,1010.6 L363.7,1012.8Z M363.6,1014.3 L359.7,1016.9 L363.7,1016.9Z M363.6,1016.3 L358.9,1019.3 L363.7,1018.9Z M363.6,1018.3 L360.0,1019.8 L363.7,1020.9Z M363.6,1020.3 L357.1,1020.2 L363.7,1022.9Z M363.6,1028.4 L358.8,1031.1 L363.7,1031.0Z M363.6,1032.4 L359.8,1032.4 L363.7,1035.0Z M363.6,1034.4 L359.0,1034.0 L363.7,1037.0Z M363.6,1036.5 L359.0,1039.0 L363.7,1039.0Z M363.7,1040.5 L360.0,1040.7 L363.7,1043.1Z M363.7,1044.5 L358.9,1044.9 L363.8,1047.1Z M363.8,1050.6 L355.1,1051.4 L363.9,1053.2Z M363.8,1052.6 L360.4,1053.0 L363.9,1055.2Z M363.9,1054.6 L355.8,1056.3 L364.0,1057.2Z M363.9,1056.6 L360.5,1058.3 L364.0,1059.2Z M364.0,1058.6 L358.9,1058.0 L364.1,1061.2Z M364.0,1060.6 L358.9,1062.0 L364.1,1063.2Z M364.1,1062.7 L359.2,1062.9 L364.2,1065.3Z M364.3,1068.7 L360.8,1069.4 L364.4,1071.3Z M364.4,1072.7 L360.0,1072.9 L364.5,1075.3Z M364.5,1074.8 L359.3,1074.4 L364.6,1077.4Z M364.6,1076.8 L361.7,1078.3 L364.7,1079.4Z M364.7,1080.8 L361.2,1082.2 L364.8,1083.4Z M364.8,1082.8 L361.1,1083.6 L364.9,1085.4Z M364.9,1084.8 L359.9,1085.1 L365.0,1087.4Z M365.0,1086.8 L362.1,1087.7 L365.1,1089.4Z M365.3,1092.9 L361.8,1093.2 L365.4,1095.5Z M365.9,1103.0 L361.8,1104.2 L366.0,1105.6Z M366.2,1107.0 L361.0,1110.2 L366.3,1109.6Z M366.3,1109.0 L358.3,1110.9 L366.4,1111.6Z M366.4,1111.0 L362.6,1112.4 L366.5,1113.6Z M366.6,1113.0 L363.7,1114.6 L366.7,1115.6Z M367.0,1119.1 L363.0,1120.1 L367.1,1121.7Z M367.1,1121.1 L363.1,1121.8 L367.2,1123.7Z M368.2,1136.6 L365.0,1139.0 L368.8,1139.1Z M369.0,1139.4 L363.4,1145.3 L370.5,1141.5Z M370.8,1141.6 L369.0,1145.7 L373.0,1143.0Z M373.3,1143.1 L372.6,1149.3 L375.8,1143.5Z M376.7,1143.4 L378.6,1150.5 L379.3,1143.3Z M378.7,1143.3 L380.8,1147.0 L381.3,1143.2Z M389.5,1142.9 L393.7,1145.6 L391.9,1141.8Z M390.9,1142.4 L397.8,1146.0 L393.0,1140.9Z M393.3,1140.7 L397.1,1141.7 L394.7,1138.5Z M395.3,1136.8 L398.3,1136.3 L395.2,1134.3Z M395.3,1132.8 L402.9,1132.1 L395.2,1130.2Z M395.4,1128.8 L398.9,1127.7 L395.3,1126.2Z M395.4,1126.8 L399.4,1125.9 L395.3,1124.2Z M395.4,1124.7 L398.2,1123.3 L395.3,1122.1Z M395.4,1120.7 L402.7,1118.6 L395.3,1118.1Z M395.4,1116.7 L401.7,1112.6 L395.3,1114.1Z M395.4,1112.6 L399.4,1110.1 L395.3,1110.0Z M395.3,1096.5 L399.6,1096.0 L395.2,1093.9Z M395.3,1094.5 L402.7,1095.5 L395.2,1091.9Z M395.2,1086.4 L398.4,1085.1 L395.1,1083.8Z M395.1,1084.4 L397.9,1082.8 L395.0,1081.8Z M395.1,1082.4 L398.3,1080.0 L395.0,1079.8Z M394.9,1076.3 L399.3,1075.9 L394.8,1073.7Z M394.8,1072.3 L398.8,1070.1 L394.7,1069.7Z M394.7,1070.3 L399.6,1069.2 L394.6,1067.7Z M394.5,1064.2 L398.9,1063.1 L394.4,1061.6Z M394.4,1060.2 L399.1,1058.7 L394.3,1057.6Z M394.3,1058.2 L401.5,1056.4 L394.2,1055.6Z M393.9,1050.1 L398.7,1050.4 L393.8,1047.5Z M393.7,1046.1 L398.0,1043.4 L393.6,1043.5Z M393.6,1044.1 L397.0,1041.9 L393.5,1041.5Z M393.4,1042.1 L396.8,1041.1 L393.4,1039.5Z M393.2,1038.1 L396.1,1037.1 L393.1,1035.5Z M393.1,1036.0 L400.7,1031.2 L393.0,1033.4Z M392.7,1030.0 L397.0,1028.1 L392.6,1027.4Z M392.4,1026.0 L395.8,1025.3 L392.3,1023.4Z M392.2,1022.0 L396.3,1019.1 L392.1,1019.4Z M392.0,1019.9 L395.6,1018.0 L391.9,1017.3Z M391.9,1017.9 L395.0,1016.8 L391.8,1015.3Z M391.7,1015.9 L395.8,1013.2 L391.6,1013.3Z M391.3,1009.9 L395.5,1007.0 L391.2,1007.3Z M390.8,1003.8 L394.4,1003.6 L390.8,1001.2Z M390.6,1001.0 L397.6,997.0 L389.5,998.6Z M387.0,996.5 L387.9,992.1 L384.6,995.6Z M384.3,995.6 L383.7,992.0 L381.7,995.6Z M382.3,995.6 L381.3,992.6 L379.7,995.7Z M380.3,995.7 L378.5,990.8 L377.7,995.8Z M374.3,995.9 L372.4,992.4 L371.7,996.0Z M370.9,995.9 L369.8,992.7 L368.4,996.5Z M365.7,998.3 L362.0,996.2 L364.3,1000.5Z M364.8,999.5 L360.1,997.5 L363.9,1001.9Z" fill="#111" stroke="#111" stroke-width="0.6" stroke-linejoin="miter"/>
<path d="M363.1,1003.5 L362.4,1005.5 L363.2,1007.5 L364.2,1009.5 L363.0,1011.5 L362.8,1013.6 L362.5,1015.6 L361.2,1017.7 L361.0,1019.7 L362.9,1021.6 L363.3,1023.6 L362.2,1025.7 L362.9,1027.7 L363.1,1029.7 L362.3,1031.7 L363.0,1033.7 L362.6,1035.8 L362.1,1037.8 L362.0,1039.8 L362.4,1041.8 L363.6,1043.8 L364.1,1045.8 L364.0,1047.8 L363.0,1049.9 L361.9,1051.9 L361.6,1054.0 L363.1,1055.9 L361.7,1058.0 L363.8,1059.9 L363.0,1062.0 L363.5,1064.0 L363.2,1066.0 L364.1,1068.0 L362.6,1070.1 L364.2,1072.0 L361.8,1074.1 L362.9,1076.1 L364.5,1078.1 L365.1,1080.1 L364.3,1082.1 L365.5,1084.1 L364.5,1086.1 L363.5,1088.2 L364.5,1090.2 L364.3,1092.2 L364.4,1094.2 L365.0,1096.2 L365.1,1098.2 L366.6,1100.2 L365.8,1102.2 L364.5,1104.3 L366.2,1106.3 L363.7,1108.4 L365.8,1110.3 L364.8,1112.4 L365.9,1114.3 L366.9,1116.3 L366.1,1118.4 L367.1,1120.4 L365.7,1122.4 L365.4,1124.4 L365.7,1126.5 L365.6,1128.5 L365.9,1130.5 L367.6,1132.4 L367.9,1134.5 L367.4,1136.5 L367.3,1138.1 L369.4,1139.0 L369.8,1140.4 L370.4,1141.8 L370.8,1144.1 L372.9,1143.7 L374.5,1143.8 L376.0,1143.1 L378.0,1142.8 L380.0,1143.6 L382.0,1142.9 L384.0,1143.0 L386.1,1145.5 L388.0,1143.4 L389.4,1143.1 L391.3,1143.6 L391.9,1141.6 L393.6,1141.2 L394.1,1139.7 L394.5,1138.2 L396.9,1137.3 L397.6,1135.5 L397.5,1133.5 L395.9,1131.5 L396.1,1129.5 L395.3,1127.5 L396.3,1125.4 L394.7,1123.5 L396.2,1121.4 L395.5,1119.4 L397.3,1117.3 L397.0,1115.3 L396.4,1113.3 L396.6,1111.3 L396.6,1109.3 L396.4,1107.3 L394.7,1105.3 L396.8,1103.2 L397.3,1101.2 L396.5,1099.2 L397.9,1097.1 L395.5,1095.2 L396.5,1093.1 L394.9,1091.2 L395.3,1089.1 L395.8,1087.1 L395.3,1085.1 L396.8,1083.0 L396.7,1081.0 L397.6,1079.0 L397.2,1077.0 L394.8,1075.0 L395.8,1073.0 L394.2,1071.0 L394.9,1069.0 L395.8,1066.9 L396.1,1064.9 L395.6,1062.9 L396.2,1060.9 L394.9,1058.9 L394.0,1056.9 L394.2,1054.9 L394.3,1052.9 L394.9,1050.8 L394.0,1048.8 L394.0,1046.8 L396.0,1044.7 L395.9,1042.7 L394.0,1040.8 L393.7,1038.8 L393.2,1036.8 L392.9,1034.8 L393.6,1032.7 L393.2,1030.7 L394.8,1028.6 L393.6,1026.7 L394.3,1024.6 L392.4,1022.7 L392.8,1020.6 L392.2,1018.6 L391.2,1016.7 L392.6,1014.6 L391.8,1012.6 L391.7,1010.6 L392.8,1008.5 L392.0,1006.5 L393.0,1004.5 L392.0,1002.5 L390.5,1001.2 L389.0,1000.3 L388.7,999.0 L387.9,997.9 L388.0,995.2 L386.4,994.6 L384.6,994.4 L383.0,995.4 L381.0,994.3 L379.0,995.6 L377.0,995.3 L375.0,995.8 L373.0,995.7 L371.0,995.7 L369.3,994.9 L367.8,995.6 L366.7,996.8 L365.4,997.8 L364.7,999.2 L363.9,1000.5 L364.6,1002.2Z" fill="#a88d70"/>
<g clip-path="url(#fc21)"><g filter="url(#blur2)">
<path d="M355.0,935.7 L397.4,1007.8" stroke="#54483d" stroke-width="10.1" opacity="0.88" stroke-linecap="round"/>
<path d="M375.3,941.0 L378.9,977.6" stroke="#3f352c" stroke-width="4.9" opacity="0.6" stroke-linecap="round"/>
<path d="M355.5,949.7 L397.9,1020.5" stroke="#d9bb90" stroke-width="8.1" opacity="0.77" stroke-linecap="round"/>
<path d="M356.0,964.9 L398.4,1037.4" stroke="#5e5248" stroke-width="9.7" opacity="0.86" stroke-linecap="round"/>
<path d="M356.6,983.1 L399.2,1059.5" stroke="#d9bb90" stroke-width="9.9" opacity="0.82" stroke-linecap="round"/>
<path d="M357.1,999.3 L399.4,1066.2" stroke="#6b5e52" stroke-width="11.8" opacity="0.78" stroke-linecap="round"/>
<path d="M357.8,1017.8 L400.0,1084.9" stroke="#d9bb90" stroke-width="5.2" opacity="0.88" stroke-linecap="round"/>
<path d="M358.3,1034.3 L400.3,1094.3" stroke="#6b5e52" stroke-width="6.7" opacity="0.71" stroke-linecap="round"/>
<path d="M358.7,1046.3 L400.7,1106.4" stroke="#d9bb90" stroke-width="6.5" opacity="0.81" stroke-linecap="round"/>
<path d="M359.5,1068.8 L401.7,1133.7" stroke="#54483d" stroke-width="8.4" opacity="0.76" stroke-linecap="round"/>
<path d="M369.8,1067.4 L390.0,1099.9" stroke="#3f352c" stroke-width="3.4" opacity="0.6" stroke-linecap="round"/>
<path d="M360.1,1086.5 L402.4,1155.9" stroke="#d9bb90" stroke-width="6.3" opacity="0.79" stroke-linecap="round"/>
<path d="M360.6,1101.2 L402.9,1170.8" stroke="#5e5248" stroke-width="9.8" opacity="0.83" stroke-linecap="round"/>
<path d="M361.0,1115.7 L403.5,1188.8" stroke="#d9bb90" stroke-width="5.0" opacity="0.79" stroke-linecap="round"/>
<path d="M361.5,1129.2 L403.6,1192.7" stroke="#54483d" stroke-width="7.3" opacity="0.71" stroke-linecap="round"/>
<path d="M374.1,1126.7 L382.9,1158.8" stroke="#3f352c" stroke-width="2.4" opacity="0.6" stroke-linecap="round"/>
<path d="M361.9,1142.7 L404.2,1208.9" stroke="#d9bb90" stroke-width="8.0" opacity="0.75" stroke-linecap="round"/>
</g>
<path d="M383.5,1106.3 L386.5,1111.0 M364.7,1037.6 L367.0,1041.1 M390.9,1112.1 L395.5,1119.4 M366.8,1103.6 L369.4,1107.7 M379.3,1050.5 L383.8,1057.6 M368.1,1120.4 L371.8,1126.3 M372.5,1073.1 L374.6,1076.4 M395.1,1142.1 L398.3,1147.1 M386.9,1067.4 L390.6,1073.1 M393.2,1137.0 L397.8,1144.2 M371.1,1052.7 L374.2,1057.5 M382.8,1131.2 L386.2,1136.5 M388.1,1034.1 L391.7,1039.8 M387.7,1056.5 L392.2,1063.6 M365.0,1076.5 L367.6,1080.5 M376.3,1066.6 L379.1,1071.0 M368.0,1119.2 L372.4,1126.0 M393.4,1016.6 L397.5,1023.1 M373.9,1092.0 L378.6,1099.5 M387.6,1018.3 L391.6,1024.6 M388.0,1094.2 L392.0,1100.5 M389.3,1106.2 L393.2,1112.3 M387.1,1071.4 L389.7,1075.4 M367.3,1094.6 L369.9,1098.7 M378.4,1136.2 L380.6,1139.7 M390.0,1080.0 L394.7,1087.4 M393.4,1145.7 L398.0,1152.9 M384.8,1117.4 L387.3,1121.3 M362.0,1006.3 L364.2,1009.8 M371.6,1054.1 L374.4,1058.5 M367.7,1112.2 L371.3,1118.0 M382.7,1124.0 L385.9,1129.0 M394.3,1087.8 L397.1,1092.1 M388.2,1081.1 L391.0,1085.5 M374.3,1139.6 L377.5,1144.7 M387.1,1118.1 L391.5,1125.0 M372.8,994.3 L377.5,1001.7 M386.1,1093.8 L390.4,1100.6 M366.1,1002.4 L368.6,1006.5 M377.4,1054.4 L382.0,1061.6 M394.8,1132.7 L398.6,1138.6 M368.4,1020.7 L371.1,1025.0 M383.2,1022.0 L386.4,1027.0 M368.1,1054.2 L372.4,1061.0 M368.8,996.0 L373.2,1002.9 M361.7,1000.3 L365.8,1006.7 M377.5,995.2 L382.1,1002.5 M394.3,1109.7 L398.6,1116.6 M388.6,1040.1 L390.9,1043.6 M380.9,1121.7 L383.4,1125.7 M379.4,1003.1 L383.2,1009.1 M366.2,1066.0 L368.5,1069.6 M384.9,1074.6 L387.0,1077.9 M376.4,1052.9 L378.5,1056.2 M387.4,1001.1 L391.7,1007.9 M375.0,1066.2 L379.3,1073.0 M388.5,997.7 L392.3,1003.7 M382.9,1047.1 L387.3,1054.0 M396.4,1128.2 L400.6,1134.8 M390.2,1123.1 L393.9,1128.9 M391.9,997.2 L395.2,1002.4 M362.8,1015.1 L366.0,1020.2 M380.7,1147.6 L383.7,1152.4 M380.9,1040.7 L383.3,1044.5 M391.3,1120.5 L394.2,1125.2 M370.6,1146.7 L373.6,1151.5 M374.5,1019.9 L377.3,1024.2 M382.4,1017.1 L384.9,1021.1 M369.9,1134.4 L373.0,1139.4 M388.9,1087.2 L391.2,1090.8 M374.2,1041.5 L376.8,1045.5 M370.4,1116.6 L374.3,1122.8 M382.7,1097.2 L387.3,1104.5 M377.0,1060.6 L381.2,1067.1 M381.6,1066.7 L385.3,1072.5 M369.7,999.5 L373.7,1005.9 M373.4,1136.1 L377.8,1143.0 M394.5,1104.0 L398.2,1109.8 M396.5,1139.1 L399.2,1143.3 M369.4,1100.0 L372.3,1104.6 M367.1,1090.7 L370.8,1096.6 M392.0,1057.1 L396.5,1064.1 M397.4,1143.0 L401.9,1150.0 M380.9,1009.7 L383.4,1013.6 M374.8,1063.1 L379.0,1069.7 M392.5,1014.9 L396.7,1021.6 M367.6,1093.0 L371.8,1099.6 M392.0,1137.8 L394.9,1142.4 M374.2,1014.2 L376.4,1017.6" stroke="#3e342b" stroke-width="0.5" opacity="0.45"/>
<path d="M384.4,1105.5 L388.6,1112.1 M387.1,1037.3 L391.4,1044.0 M367.3,1088.7 L370.7,1093.9 M382.6,1104.3 L384.9,1107.8 M366.9,1078.8 L371.4,1086.0 M368.4,991.7 L373.1,999.1 M369.7,1131.5 L374.4,1139.0 M370.5,1146.8 L374.7,1153.4 M365.1,1092.2 L368.1,1096.8 M378.5,1094.0 L382.6,1100.5 M366.4,1071.6 L370.2,1077.6 M387.8,1071.7 L391.4,1077.3 M375.7,1040.5 L379.0,1045.8 M391.0,1128.0 L393.5,1132.1 M391.9,1139.7 L396.2,1146.5 M392.7,1069.4 L396.4,1075.2 M393.8,1079.1 L398.6,1086.5 M370.0,1070.8 L373.8,1076.8 M384.7,1124.6 L388.4,1130.5 M384.6,1143.9 L389.1,1150.9 M383.7,1095.6 L386.5,1100.1 M363.4,1030.5 L367.0,1036.1 M370.0,1132.8 L372.4,1136.6 M385.8,1082.2 L389.3,1087.7 M371.6,998.3 L375.9,1005.1 M385.2,1049.7 L389.3,1056.3 M374.8,1050.6 L377.4,1054.6 M375.8,1096.6 L380.1,1103.4 M372.4,1143.9 L375.4,1148.7 M367.9,1119.5 L370.1,1123.1 M377.1,1013.4 L379.4,1017.1 M379.9,1061.8 L382.8,1066.3 M373.0,1134.8 L377.1,1141.2 M378.0,1081.4 L380.7,1085.7 M369.1,1132.4 L373.5,1139.4 M368.0,1035.5 L371.9,1041.7 M389.4,1000.7 L392.9,1006.1 M382.6,1057.2 L386.1,1062.7 M394.4,1108.8 L397.5,1113.7 M391.6,1053.1 L395.0,1058.6 M375.0,1140.8 L379.6,1148.0 M396.6,1119.5 L400.4,1125.5 M390.2,1100.4 L392.6,1104.2 M369.7,1136.0 L373.8,1142.5 M372.2,1136.3 L375.5,1141.3 M393.7,1032.8 L398.1,1039.9 M364.7,1052.1 L368.0,1057.3 M375.2,1119.8 L378.0,1124.2 M369.3,1142.9 L372.9,1148.6 M388.9,1087.7 L391.1,1091.2 M376.5,1003.9 L379.6,1008.8 M374.4,1144.4 L377.4,1149.1 M374.4,1117.1 L378.2,1123.0 M361.6,992.9 L366.2,1000.2 M364.4,1012.5 L368.0,1018.3 M382.2,1022.0 L385.6,1027.4 M372.9,1035.1 L375.7,1039.6 M368.1,1085.8 L372.5,1092.8 M385.9,1028.8 L389.4,1034.4 M377.0,1044.0 L381.1,1050.4 M381.9,1068.4 L386.3,1075.2 M389.2,1098.6 L392.7,1104.1 M375.6,1009.0 L379.0,1014.4 M389.2,1132.5 L392.2,1137.2 M375.0,1063.6 L378.3,1068.8 M390.1,1120.2 L393.9,1126.2 M368.6,1087.9 L370.9,1091.6 M377.1,1060.9 L380.0,1065.5 M388.2,1039.8 L391.1,1044.5 M385.0,1041.3 L388.5,1046.9 M384.4,1110.3 L387.7,1115.5 M395.7,1104.6 L398.4,1108.9 M391.4,1097.9 L394.0,1102.1 M383.4,1097.8 L385.6,1101.3 M372.8,1012.1 L374.9,1015.4 M387.2,1010.2 L391.4,1016.7 M386.1,1071.5 L389.3,1076.6 M379.7,1111.9 L382.9,1117.0 M383.4,997.9 L386.7,1003.3 M379.5,1104.3 L382.6,1109.2 M385.8,995.5 L388.6,1000.0 M361.2,991.9 L364.2,996.7 M392.0,1099.9 L394.9,1104.5 M388.6,999.2 L391.2,1003.3 M387.2,1070.7 L390.8,1076.4 M390.7,1001.5 L394.9,1008.1 M386.6,1023.8 L390.0,1029.3 M391.6,1124.0 L396.0,1131.0 M372.1,1128.5 L374.9,1132.9" stroke="#e6cfa8" stroke-width="0.5" opacity="0.5"/>
</g>
<path d="M363.1,1003.5 L362.4,1005.5 L363.2,1007.5 L364.2,1009.5 L363.0,1011.5 L362.8,1013.6 L362.5,1015.6 L361.2,1017.7 L361.0,1019.7 L362.9,1021.6 L363.3,1023.6 L362.2,1025.7 L362.9,1027.7 L363.1,1029.7 L362.3,1031.7 L363.0,1033.7 L362.6,1035.8 L362.1,1037.8 L362.0,1039.8 L362.4,1041.8 L363.6,1043.8 L364.1,1045.8 L364.0,1047.8 L363.0,1049.9 L361.9,1051.9 L361.6,1054.0 L363.1,1055.9 L361.7,1058.0 L363.8,1059.9 L363.0,1062.0 L363.5,1064.0 L363.2,1066.0 L364.1,1068.0 L362.6,1070.1 L364.2,1072.0 L361.8,1074.1 L362.9,1076.1 L364.5,1078.1 L365.1,1080.1 L364.3,1082.1 L365.5,1084.1 L364.5,1086.1 L363.5,1088.2 L364.5,1090.2 L364.3,1092.2 L364.4,1094.2 L365.0,1096.2 L365.1,1098.2 L366.6,1100.2 L365.8,1102.2 L364.5,1104.3 L366.2,1106.3 L363.7,1108.4 L365.8,1110.3 L364.8,1112.4 L365.9,1114.3 L366.9,1116.3 L366.1,1118.4 L367.1,1120.4 L365.7,1122.4 L365.4,1124.4 L365.7,1126.5 L365.6,1128.5 L365.9,1130.5 L367.6,1132.4 L367.9,1134.5 L367.4,1136.5 L367.3,1138.1 L369.4,1139.0 L369.8,1140.4 L370.4,1141.8 L370.8,1144.1 L372.9,1143.7 L374.5,1143.8 L376.0,1143.1 L378.0,1142.8 L380.0,1143.6 L382.0,1142.9 L384.0,1143.0 L386.1,1145.5 L388.0,1143.4 L389.4,1143.1 L391.3,1143.6 L391.9,1141.6 L393.6,1141.2 L394.1,1139.7 L394.5,1138.2 L396.9,1137.3 L397.6,1135.5 L397.5,1133.5 L395.9,1131.5 L396.1,1129.5 L395.3,1127.5 L396.3,1125.4 L394.7,1123.5 L396.2,1121.4 L395.5,1119.4 L397.3,1117.3 L397.0,1115.3 L396.4,1113.3 L396.6,1111.3 L396.6,1109.3 L396.4,1107.3 L394.7,1105.3 L396.8,1103.2 L397.3,1101.2 L396.5,1099.2 L397.9,1097.1 L395.5,1095.2 L396.5,1093.1 L394.9,1091.2 L395.3,1089.1 L395.8,1087.1 L395.3,1085.1 L396.8,1083.0 L396.7,1081.0 L397.6,1079.0 L397.2,1077.0 L394.8,1075.0 L395.8,1073.0 L394.2,1071.0 L394.9,1069.0 L395.8,1066.9 L396.1,1064.9 L395.6,1062.9 L396.2,1060.9 L394.9,1058.9 L394.0,1056.9 L394.2,1054.9 L394.3,1052.9 L394.9,1050.8 L394.0,1048.8 L394.0,1046.8 L396.0,1044.7 L395.9,1042.7 L394.0,1040.8 L393.7,1038.8 L393.2,1036.8 L392.9,1034.8 L393.6,1032.7 L393.2,1030.7 L394.8,1028.6 L393.6,1026.7 L394.3,1024.6 L392.4,1022.7 L392.8,1020.6 L392.2,1018.6 L391.2,1016.7 L392.6,1014.6 L391.8,1012.6 L391.7,1010.6 L392.8,1008.5 L392.0,1006.5 L393.0,1004.5 L392.0,1002.5 L390.5,1001.2 L389.0,1000.3 L388.7,999.0 L387.9,997.9 L388.0,995.2 L386.4,994.6 L384.6,994.4 L383.0,995.4 L381.0,994.3 L379.0,995.6 L377.0,995.3 L375.0,995.8 L373.0,995.7 L371.0,995.7 L369.3,994.9 L367.8,995.6 L366.7,996.8 L365.4,997.8 L364.7,999.2 L363.9,1000.5 L364.6,1002.2Z" fill="none" stroke="#111" stroke-width="2.3" stroke-linejoin="round"/>
<clipPath id="fc22"><path d="M667.3,1002.4 L669.6,1004.5 L669.2,1006.5 L669.2,1008.5 L668.4,1010.5 L666.2,1012.4 L665.7,1014.4 L667.5,1016.5 L666.4,1018.5 L665.9,1020.5 L666.2,1022.5 L666.9,1024.6 L667.7,1026.6 L667.0,1028.6 L664.8,1030.5 L666.2,1032.6 L664.7,1034.6 L664.2,1036.6 L665.6,1038.6 L666.3,1040.7 L666.6,1042.7 L665.8,1044.7 L664.2,1046.7 L663.6,1048.7 L664.4,1050.7 L664.4,1052.7 L664.1,1054.7 L664.3,1056.8 L664.2,1058.8 L665.3,1060.8 L664.9,1062.8 L664.2,1064.8 L663.2,1066.8 L662.6,1068.8 L662.9,1070.8 L664.5,1072.9 L663.5,1074.9 L664.8,1077.0 L665.1,1079.0 L665.2,1081.0 L662.7,1082.9 L664.2,1085.0 L662.7,1087.0 L663.2,1089.0 L663.7,1091.0 L663.0,1093.0 L663.9,1095.1 L662.9,1097.1 L664.5,1099.2 L664.2,1101.2 L663.1,1103.1 L663.2,1105.2 L661.4,1107.1 L663.0,1109.2 L663.1,1111.2 L663.6,1113.2 L663.1,1115.2 L664.4,1117.3 L662.8,1119.3 L663.3,1121.3 L661.1,1123.2 L662.2,1125.3 L663.7,1127.4 L662.6,1129.4 L662.8,1131.4 L662.7,1133.4 L663.8,1135.5 L662.8,1137.1 L662.4,1139.0 L663.4,1140.5 L664.1,1142.4 L666.4,1142.5 L668.1,1142.6 L669.7,1142.5 L671.0,1143.9 L673.0,1142.9 L675.0,1142.9 L676.9,1145.6 L679.0,1143.9 L681.0,1144.5 L683.0,1145.0 L684.5,1143.7 L685.8,1143.1 L686.8,1141.8 L689.1,1142.4 L689.4,1140.6 L690.9,1139.7 L691.3,1138.1 L691.8,1136.6 L692.9,1134.6 L692.1,1132.6 L691.2,1130.5 L691.7,1128.5 L690.8,1126.5 L692.0,1124.5 L692.3,1122.5 L694.2,1120.5 L693.3,1118.5 L694.7,1116.5 L692.4,1114.4 L691.9,1112.4 L692.3,1110.4 L692.6,1108.4 L692.8,1106.4 L694.6,1104.4 L695.3,1102.4 L695.8,1100.4 L694.0,1098.3 L695.5,1096.4 L695.1,1094.3 L694.2,1092.3 L694.1,1090.3 L694.5,1088.3 L696.4,1086.3 L696.9,1084.3 L695.0,1082.2 L696.2,1080.2 L694.4,1078.2 L694.1,1076.1 L694.5,1074.1 L695.9,1072.2 L696.8,1070.2 L697.4,1068.2 L696.0,1066.1 L696.7,1064.1 L696.6,1062.1 L695.2,1060.0 L696.3,1058.0 L696.7,1056.0 L697.1,1054.0 L695.8,1052.0 L696.9,1050.0 L696.2,1047.9 L697.9,1046.0 L697.1,1043.9 L695.9,1041.9 L696.3,1039.9 L695.2,1037.8 L696.7,1035.9 L696.8,1033.8 L696.2,1031.8 L697.5,1029.8 L696.7,1027.8 L696.7,1025.8 L695.8,1023.7 L695.9,1021.7 L696.8,1019.7 L695.9,1017.7 L696.7,1015.7 L698.1,1013.7 L697.8,1011.7 L698.4,1009.7 L698.1,1007.7 L696.4,1005.6 L697.1,1003.6 L696.5,1002.1 L697.0,1000.3 L695.8,999.0 L695.7,996.8 L694.5,995.3 L692.4,995.2 L690.7,994.6 L688.9,996.6 L686.9,996.4 L684.9,996.9 L682.9,996.6 L681.0,994.3 L679.0,995.2 L677.0,994.9 L675.2,993.3 L673.4,993.9 L673.0,996.8 L671.6,997.3 L671.2,998.9 L670.2,999.8 L669.0,1001.0Z"/></clipPath>
<path d="M669.2,1001.1 L663.8,1003.7 L669.1,1003.7Z M667.9,1017.2 L663.0,1018.0 L667.8,1019.8Z M666.7,1033.3 L662.5,1036.0 L666.6,1035.9Z M666.5,1037.4 L661.3,1039.3 L666.4,1040.0Z M666.1,1043.4 L661.9,1045.9 L666.0,1046.0Z M666.0,1045.4 L662.2,1045.3 L665.9,1048.0Z M665.7,1049.5 L659.4,1050.2 L665.6,1052.1Z M665.6,1051.5 L662.3,1053.8 L665.5,1054.1Z M665.4,1055.5 L662.4,1056.9 L665.3,1058.1Z M664.9,1065.6 L660.5,1067.2 L664.8,1068.2Z M664.6,1073.6 L660.0,1075.0 L664.5,1076.2Z M664.6,1075.7 L657.6,1079.0 L664.5,1078.2Z M664.5,1077.7 L658.1,1080.0 L664.4,1080.3Z M664.4,1079.7 L660.8,1080.2 L664.3,1082.3Z M664.3,1083.7 L658.3,1086.3 L664.2,1086.3Z M664.3,1085.7 L659.6,1087.0 L664.2,1088.3Z M664.2,1087.8 L661.2,1088.6 L664.1,1090.3Z M664.1,1091.8 L659.7,1094.5 L664.0,1094.4Z M664.1,1093.8 L661.3,1094.7 L664.0,1096.4Z M664.0,1099.9 L655.6,1104.5 L663.9,1102.5Z M663.9,1109.9 L660.7,1110.3 L663.8,1112.5Z M663.9,1116.0 L655.7,1117.8 L663.8,1118.6Z M663.9,1118.0 L660.9,1119.5 L663.8,1120.6Z M663.9,1122.1 L658.9,1122.7 L663.7,1124.6Z M663.8,1130.1 L660.6,1131.3 L663.7,1132.7Z M663.7,1135.6 L655.2,1136.5 L664.1,1138.2Z M664.4,1138.4 L662.8,1142.3 L665.7,1140.6Z M665.1,1139.7 L664.1,1143.9 L666.8,1141.6Z M666.0,1140.8 L664.9,1145.0 L668.1,1142.3Z M671.7,1143.0 L674.6,1150.5 L674.3,1143.1Z M673.7,1143.1 L676.0,1146.3 L676.3,1143.2Z M677.7,1143.2 L681.5,1150.7 L680.3,1143.3Z M679.7,1143.3 L681.0,1150.9 L682.3,1143.4Z M681.7,1143.4 L682.1,1148.2 L684.3,1143.5Z M683.2,1143.6 L685.7,1146.2 L685.7,1143.2Z M686.0,1143.1 L690.9,1145.2 L688.2,1141.7Z M688.5,1141.5 L693.8,1142.9 L690.0,1139.4Z M690.3,1139.2 L697.3,1141.8 L690.9,1136.7Z M691.0,1135.8 L695.5,1135.0 L691.1,1133.2Z M691.1,1133.8 L694.8,1133.5 L691.2,1131.2Z M691.4,1129.8 L694.6,1129.2 L691.6,1127.2Z M692.1,1121.8 L695.8,1121.0 L692.2,1119.2Z M692.2,1119.7 L697.2,1117.3 L692.3,1117.1Z M692.5,1115.7 L696.6,1113.5 L692.6,1113.1Z M692.8,1111.7 L697.4,1110.9 L692.9,1109.1Z M693.0,1109.7 L699.1,1106.7 L693.1,1107.1Z M693.4,1103.6 L698.1,1101.5 L693.5,1101.0Z M693.5,1101.6 L697.2,1100.6 L693.6,1099.0Z M694.0,1093.6 L702.6,1092.2 L694.1,1091.0Z M694.1,1091.6 L699.2,1090.0 L694.3,1089.0Z M694.4,1087.5 L698.9,1084.8 L694.5,1084.9Z M694.5,1085.5 L701.8,1082.4 L694.6,1082.9Z M694.6,1083.5 L699.3,1083.5 L694.7,1080.9Z M694.7,1081.5 L699.4,1079.9 L694.8,1078.9Z M694.8,1079.5 L698.1,1078.0 L694.9,1076.9Z M695.1,1073.4 L703.3,1072.6 L695.2,1070.8Z M695.1,1071.4 L698.4,1069.8 L695.2,1068.8Z M695.3,1067.4 L698.7,1065.8 L695.4,1064.8Z M695.4,1065.4 L698.8,1065.2 L695.5,1062.8Z M695.4,1063.3 L699.2,1061.5 L695.5,1060.8Z M695.5,1061.3 L700.2,1059.7 L695.6,1058.7Z M695.6,1059.3 L699.2,1057.9 L695.7,1056.7Z M695.6,1057.3 L698.9,1055.5 L695.7,1054.7Z M695.7,1053.3 L700.1,1050.8 L695.8,1050.7Z M695.9,1045.2 L699.1,1044.1 L696.0,1042.6Z M695.9,1043.2 L699.2,1040.9 L696.0,1040.6Z M696.0,1041.2 L700.1,1039.2 L696.1,1038.6Z M696.1,1033.1 L703.1,1029.6 L696.2,1030.5Z M696.1,1029.1 L701.1,1027.5 L696.2,1026.5Z M696.1,1025.0 L701.0,1025.4 L696.2,1022.4Z M696.1,1023.0 L699.3,1021.3 L696.2,1020.4Z M696.1,1019.0 L701.4,1019.2 L696.2,1016.4Z M696.2,1010.9 L699.2,1009.4 L696.3,1008.3Z M696.2,1008.9 L701.0,1006.1 L696.3,1006.3Z M696.2,1006.9 L700.6,1007.4 L696.3,1004.3Z M695.6,1000.6 L698.7,996.6 L694.3,998.4Z M692.9,997.2 L694.4,993.0 L690.5,996.2Z M688.3,996.0 L687.0,988.9 L685.7,995.9Z M686.3,995.9 L685.2,992.5 L683.7,995.8Z M684.3,995.9 L685.0,991.2 L681.7,995.7Z M678.3,995.6 L676.4,990.6 L675.7,995.5Z M676.8,995.4 L676.9,987.3 L674.3,995.8Z M670.5,998.5 L665.7,997.5 L669.4,1000.9Z M669.7,999.8 L665.6,1000.8 L669.1,1002.3Z" fill="#111" stroke="#111" stroke-width="0.6" stroke-linejoin="miter"/>
<path d="M667.3,1002.4 L669.6,1004.5 L669.2,1006.5 L669.2,1008.5 L668.4,1010.5 L666.2,1012.4 L665.7,1014.4 L667.5,1016.5 L666.4,1018.5 L665.9,1020.5 L666.2,1022.5 L666.9,1024.6 L667.7,1026.6 L667.0,1028.6 L664.8,1030.5 L666.2,1032.6 L664.7,1034.6 L664.2,1036.6 L665.6,1038.6 L666.3,1040.7 L666.6,1042.7 L665.8,1044.7 L664.2,1046.7 L663.6,1048.7 L664.4,1050.7 L664.4,1052.7 L664.1,1054.7 L664.3,1056.8 L664.2,1058.8 L665.3,1060.8 L664.9,1062.8 L664.2,1064.8 L663.2,1066.8 L662.6,1068.8 L662.9,1070.8 L664.5,1072.9 L663.5,1074.9 L664.8,1077.0 L665.1,1079.0 L665.2,1081.0 L662.7,1082.9 L664.2,1085.0 L662.7,1087.0 L663.2,1089.0 L663.7,1091.0 L663.0,1093.0 L663.9,1095.1 L662.9,1097.1 L664.5,1099.2 L664.2,1101.2 L663.1,1103.1 L663.2,1105.2 L661.4,1107.1 L663.0,1109.2 L663.1,1111.2 L663.6,1113.2 L663.1,1115.2 L664.4,1117.3 L662.8,1119.3 L663.3,1121.3 L661.1,1123.2 L662.2,1125.3 L663.7,1127.4 L662.6,1129.4 L662.8,1131.4 L662.7,1133.4 L663.8,1135.5 L662.8,1137.1 L662.4,1139.0 L663.4,1140.5 L664.1,1142.4 L666.4,1142.5 L668.1,1142.6 L669.7,1142.5 L671.0,1143.9 L673.0,1142.9 L675.0,1142.9 L676.9,1145.6 L679.0,1143.9 L681.0,1144.5 L683.0,1145.0 L684.5,1143.7 L685.8,1143.1 L686.8,1141.8 L689.1,1142.4 L689.4,1140.6 L690.9,1139.7 L691.3,1138.1 L691.8,1136.6 L692.9,1134.6 L692.1,1132.6 L691.2,1130.5 L691.7,1128.5 L690.8,1126.5 L692.0,1124.5 L692.3,1122.5 L694.2,1120.5 L693.3,1118.5 L694.7,1116.5 L692.4,1114.4 L691.9,1112.4 L692.3,1110.4 L692.6,1108.4 L692.8,1106.4 L694.6,1104.4 L695.3,1102.4 L695.8,1100.4 L694.0,1098.3 L695.5,1096.4 L695.1,1094.3 L694.2,1092.3 L694.1,1090.3 L694.5,1088.3 L696.4,1086.3 L696.9,1084.3 L695.0,1082.2 L696.2,1080.2 L694.4,1078.2 L694.1,1076.1 L694.5,1074.1 L695.9,1072.2 L696.8,1070.2 L697.4,1068.2 L696.0,1066.1 L696.7,1064.1 L696.6,1062.1 L695.2,1060.0 L696.3,1058.0 L696.7,1056.0 L697.1,1054.0 L695.8,1052.0 L696.9,1050.0 L696.2,1047.9 L697.9,1046.0 L697.1,1043.9 L695.9,1041.9 L696.3,1039.9 L695.2,1037.8 L696.7,1035.9 L696.8,1033.8 L696.2,1031.8 L697.5,1029.8 L696.7,1027.8 L696.7,1025.8 L695.8,1023.7 L695.9,1021.7 L696.8,1019.7 L695.9,1017.7 L696.7,1015.7 L698.1,1013.7 L697.8,1011.7 L698.4,1009.7 L698.1,1007.7 L696.4,1005.6 L697.1,1003.6 L696.5,1002.1 L697.0,1000.3 L695.8,999.0 L695.7,996.8 L694.5,995.3 L692.4,995.2 L690.7,994.6 L688.9,996.6 L686.9,996.4 L684.9,996.9 L682.9,996.6 L681.0,994.3 L679.0,995.2 L677.0,994.9 L675.2,993.3 L673.4,993.9 L673.0,996.8 L671.6,997.3 L671.2,998.9 L670.2,999.8 L669.0,1001.0Z" fill="#a88d70"/>
<g clip-path="url(#fc22)"><g filter="url(#blur2)">
<path d="M665.4,934.2 L702.8,1000.0" stroke="#4a4036" stroke-width="7.4" opacity="0.76" stroke-linecap="round"/>
<path d="M673.2,930.4 L689.8,963.2" stroke="#3f352c" stroke-width="4.7" opacity="0.6" stroke-linecap="round"/>
<path d="M664.7,951.9 L702.2,1015.9" stroke="#d9bb90" stroke-width="8.2" opacity="0.77" stroke-linecap="round"/>
<path d="M664.1,966.4 L701.3,1037.9" stroke="#6b5e52" stroke-width="6.8" opacity="0.89" stroke-linecap="round"/>
<path d="M672.9,962.6 L680.3,997.9" stroke="#3f352c" stroke-width="3.7" opacity="0.6" stroke-linecap="round"/>
<path d="M663.5,983.3 L700.5,1057.7" stroke="#d9bb90" stroke-width="7.9" opacity="0.76" stroke-linecap="round"/>
<path d="M662.7,1001.4 L700.0,1068.8" stroke="#4a4036" stroke-width="11.7" opacity="0.78" stroke-linecap="round"/>
<path d="M662.0,1020.2 L699.2,1088.6" stroke="#d9bb90" stroke-width="7.2" opacity="0.84" stroke-linecap="round"/>
<path d="M661.3,1037.4 L698.6,1103.7" stroke="#4a4036" stroke-width="6.9" opacity="0.83" stroke-linecap="round"/>
<path d="M686.2,1037.2 L685.1,1069.6" stroke="#3f352c" stroke-width="4.4" opacity="0.6" stroke-linecap="round"/>
<path d="M660.7,1051.9 L698.0,1120.5" stroke="#d9bb90" stroke-width="8.7" opacity="0.78" stroke-linecap="round"/>
<path d="M659.9,1071.1 L696.8,1150.1" stroke="#5e5248" stroke-width="10.3" opacity="0.83" stroke-linecap="round"/>
<path d="M674.4,1068.0 L684.8,1107.2" stroke="#3f352c" stroke-width="4.3" opacity="0.6" stroke-linecap="round"/>
<path d="M659.2,1087.9 L695.9,1172.0" stroke="#d9bb90" stroke-width="9.5" opacity="0.82" stroke-linecap="round"/>
<path d="M658.7,1102.0 L695.8,1173.4" stroke="#6b5e52" stroke-width="11.1" opacity="0.88" stroke-linecap="round"/>
<path d="M667.2,1097.8 L687.7,1133.6" stroke="#3f352c" stroke-width="3.2" opacity="0.6" stroke-linecap="round"/>
<path d="M658.0,1118.8 L695.3,1187.2" stroke="#d9bb90" stroke-width="6.5" opacity="0.83" stroke-linecap="round"/>
<path d="M657.3,1136.7 L694.7,1200.9" stroke="#6b5e52" stroke-width="8.5" opacity="0.86" stroke-linecap="round"/>
<path d="M656.7,1151.5 L694.3,1212.5" stroke="#d9bb90" stroke-width="7.5" opacity="0.90" stroke-linecap="round"/>
</g>
<path d="M685.1,1138.4 L688.4,1144.5 M681.0,1029.5 L684.8,1036.6 M689.0,1075.4 L691.7,1080.4 M667.7,1028.6 L670.0,1032.9 M689.4,1105.4 L691.8,1109.9 M681.0,1138.7 L682.9,1142.3 M695.3,1053.0 L699.2,1060.3 M684.9,1141.7 L688.5,1148.5 M677.7,1011.0 L680.6,1016.4 M663.7,1091.8 L666.7,1097.4 M676.8,1141.3 L678.8,1145.0 M697.7,1015.5 L701.7,1023.0 M693.0,1104.1 L696.6,1110.7 M694.6,1054.5 L698.3,1061.6 M665.0,1097.9 L668.9,1105.1 M674.4,1079.2 L677.7,1085.5 M667.3,1138.5 L670.9,1145.3 M692.8,1075.4 L696.0,1081.3 M690.6,991.0 L694.3,997.9 M683.0,1032.3 L686.3,1038.5 M698.3,995.8 L701.8,1002.4 M673.3,1090.4 L677.0,1097.3 M682.8,1121.6 L686.8,1129.2 M678.2,1091.8 L681.3,1097.5 M691.8,1139.0 L694.3,1143.6 M676.4,1071.1 L680.3,1078.3 M676.8,1014.6 L680.7,1021.8 M672.8,1048.3 L675.1,1052.7 M685.0,998.2 L689.1,1005.7 M676.3,1001.0 L679.4,1006.7 M686.2,1099.0 L689.7,1105.6 M692.4,1130.2 L694.3,1133.8 M692.1,1101.7 L694.1,1105.5 M681.1,1011.6 L683.6,1016.2 M680.4,1068.1 L684.1,1075.1 M695.0,1003.1 L697.5,1007.9 M691.1,1060.1 L694.0,1065.5 M683.7,995.4 L686.9,1001.3 M678.2,997.3 L681.4,1003.3 M672.9,1145.2 L674.9,1148.9 M693.6,1078.9 L697.1,1085.3 M676.0,1077.6 L679.0,1083.0 M670.4,1040.7 L673.2,1046.1 M663.5,1093.6 L666.2,1098.7 M672.2,1084.1 L674.5,1088.4 M673.5,1092.4 L675.6,1096.3 M675.0,1079.0 L677.6,1083.9 M664.6,1053.7 L667.6,1059.2 M667.8,1059.8 L670.7,1065.1 M682.8,1059.6 L686.3,1066.2 M685.9,1033.4 L689.3,1039.8 M668.7,1026.2 L671.0,1030.5 M690.5,1069.6 L693.0,1074.3 M695.0,1005.1 L697.1,1009.0 M686.8,1111.7 L690.0,1117.7 M693.7,993.6 L697.4,1000.5 M673.6,994.7 L676.5,1000.0 M686.7,1095.6 L689.7,1101.3 M677.9,1006.3 L681.9,1013.7 M676.2,1083.3 L679.0,1088.6 M693.7,1000.8 L697.0,1007.0 M668.3,1076.4 L671.0,1081.3 M674.9,1005.4 L678.1,1011.5 M687.4,1061.3 L690.9,1067.8 M693.4,1066.0 L696.1,1071.0 M679.1,1089.4 L681.0,1092.9 M678.0,1125.9 L681.5,1132.5 M667.4,1008.4 L669.8,1013.0 M685.3,1099.9 L688.8,1106.4 M672.3,1071.7 L676.1,1078.9 M686.3,1082.6 L690.2,1089.8 M668.8,1042.8 L671.1,1047.0 M686.8,1087.4 L690.7,1094.7 M683.7,1081.0 L687.7,1088.5 M674.4,1026.3 L677.8,1032.6 M690.3,994.0 L693.2,999.5 M686.1,1140.6 L688.8,1145.7 M670.7,1093.2 L673.9,1099.4 M681.8,998.8 L685.4,1005.5 M680.1,1089.6 L683.9,1096.8 M687.9,1101.0 L691.9,1108.6 M667.4,1014.7 L669.7,1019.2 M684.4,997.2 L686.7,1001.5 M684.8,1074.3 L687.6,1079.4 M663.7,1130.8 L666.8,1136.5 M688.2,992.8 L692.4,1000.6 M666.9,1078.2 L669.8,1083.7 M669.8,1015.9 L673.9,1023.6 M691.7,1108.2 L695.8,1116.0" stroke="#3e342b" stroke-width="0.5" opacity="0.45"/>
<path d="M688.1,1076.4 L691.4,1082.7 M671.0,1013.2 L673.9,1018.5 M676.5,999.5 L680.0,1006.0 M683.4,1122.2 L685.6,1126.4 M678.4,1070.1 L680.5,1073.9 M672.5,1058.7 L675.2,1063.7 M689.5,1103.7 L692.9,1109.9 M685.6,1072.0 L688.3,1077.1 M692.5,1149.5 L695.4,1155.0 M670.4,1020.0 L674.1,1026.8 M689.1,1138.0 L692.2,1143.9 M698.2,993.8 L701.7,1000.3 M687.5,1118.5 L690.7,1124.6 M694.3,1031.3 L697.4,1037.0 M688.2,1074.8 L692.2,1082.2 M661.8,1135.3 L665.1,1141.5 M681.9,1041.4 L684.0,1045.3 M698.1,993.7 L700.7,998.6 M683.4,1097.8 L686.7,1104.0 M674.4,1147.3 L678.6,1155.1 M684.1,1087.7 L688.1,1095.1 M665.7,1109.6 L667.7,1113.4 M662.5,1127.3 L666.4,1134.6 M690.1,1044.1 L692.4,1048.2 M696.1,1027.8 L698.0,1031.3 M684.1,1067.3 L686.2,1071.3 M693.0,1137.0 L695.5,1141.6 M697.9,1005.7 L701.3,1012.1 M692.5,1033.9 L694.7,1038.0 M682.2,1131.6 L684.8,1136.3 M671.6,1072.9 L674.6,1078.7 M668.2,1043.7 L670.5,1047.9 M673.4,1002.0 L676.6,1007.9 M674.4,1132.2 L678.2,1139.3 M670.0,1100.7 L672.3,1104.9 M665.9,1022.4 L668.1,1026.5 M673.5,1013.2 L676.3,1018.5 M684.2,1027.7 L687.1,1033.1 M680.1,1148.1 L682.3,1152.2 M674.6,990.3 L677.4,995.4 M684.9,1021.7 L687.9,1027.3 M683.3,1098.2 L685.6,1102.5 M696.3,1000.5 L698.7,1004.9 M677.8,1005.8 L680.0,1009.8 M663.4,1139.8 L667.5,1147.5 M671.4,1039.7 L674.3,1045.0 M675.6,1034.8 L678.7,1040.5 M680.9,1117.2 L684.6,1124.0 M663.4,1121.4 L665.9,1126.1 M687.2,1130.2 L689.3,1134.1 M689.6,1020.3 L693.6,1027.7 M693.9,1030.0 L696.6,1035.0 M661.4,1139.9 L663.7,1144.2 M689.3,994.8 L693.3,1002.5 M685.0,1112.6 L688.3,1118.8 M686.3,990.6 L689.7,997.0 M694.6,1069.9 L698.7,1077.7 M681.1,1089.7 L683.3,1093.8 M685.5,1009.3 L687.9,1013.8 M675.9,1032.3 L680.0,1039.9 M681.4,1070.8 L683.7,1075.1 M676.5,994.8 L679.3,1000.1 M685.6,1118.3 L689.2,1125.0 M677.2,1030.3 L680.4,1036.1 M671.7,1110.8 L675.3,1117.5 M682.8,1137.7 L686.6,1144.9 M690.6,1105.6 L693.9,1111.8 M691.4,1096.4 L694.2,1101.7 M687.3,993.5 L690.2,998.8 M669.9,1095.9 L672.7,1101.1 M669.7,1005.8 L672.9,1011.8 M684.3,1132.4 L687.1,1137.5 M681.5,1127.2 L684.6,1133.1 M693.4,1017.0 L696.7,1023.2 M690.6,1006.4 L693.7,1012.0 M682.9,1097.1 L684.8,1100.6 M672.4,1079.4 L676.5,1087.0 M667.9,1110.5 L669.8,1114.1 M670.5,1069.8 L672.6,1073.8 M683.0,1026.9 L685.7,1032.0 M671.1,1126.9 L675.0,1134.2 M670.2,1055.4 L673.1,1060.8 M696.8,1001.1 L700.1,1007.2 M667.6,1041.8 L669.8,1045.8 M664.9,1088.9 L667.2,1093.2 M687.6,1014.4 L691.5,1021.7 M685.3,1093.9 L689.4,1101.6 M675.0,1057.8 L678.0,1063.3 M670.4,1065.8 L673.6,1071.6" stroke="#e6cfa8" stroke-width="0.5" opacity="0.5"/>
</g>
<path d="M667.3,1002.4 L669.6,1004.5 L669.2,1006.5 L669.2,1008.5 L668.4,1010.5 L666.2,1012.4 L665.7,1014.4 L667.5,1016.5 L666.4,1018.5 L665.9,1020.5 L666.2,1022.5 L666.9,1024.6 L667.7,1026.6 L667.0,1028.6 L664.8,1030.5 L666.2,1032.6 L664.7,1034.6 L664.2,1036.6 L665.6,1038.6 L666.3,1040.7 L666.6,1042.7 L665.8,1044.7 L664.2,1046.7 L663.6,1048.7 L664.4,1050.7 L664.4,1052.7 L664.1,1054.7 L664.3,1056.8 L664.2,1058.8 L665.3,1060.8 L664.9,1062.8 L664.2,1064.8 L663.2,1066.8 L662.6,1068.8 L662.9,1070.8 L664.5,1072.9 L663.5,1074.9 L664.8,1077.0 L665.1,1079.0 L665.2,1081.0 L662.7,1082.9 L664.2,1085.0 L662.7,1087.0 L663.2,1089.0 L663.7,1091.0 L663.0,1093.0 L663.9,1095.1 L662.9,1097.1 L664.5,1099.2 L664.2,1101.2 L663.1,1103.1 L663.2,1105.2 L661.4,1107.1 L663.0,1109.2 L663.1,1111.2 L663.6,1113.2 L663.1,1115.2 L664.4,1117.3 L662.8,1119.3 L663.3,1121.3 L661.1,1123.2 L662.2,1125.3 L663.7,1127.4 L662.6,1129.4 L662.8,1131.4 L662.7,1133.4 L663.8,1135.5 L662.8,1137.1 L662.4,1139.0 L663.4,1140.5 L664.1,1142.4 L666.4,1142.5 L668.1,1142.6 L669.7,1142.5 L671.0,1143.9 L673.0,1142.9 L675.0,1142.9 L676.9,1145.6 L679.0,1143.9 L681.0,1144.5 L683.0,1145.0 L684.5,1143.7 L685.8,1143.1 L686.8,1141.8 L689.1,1142.4 L689.4,1140.6 L690.9,1139.7 L691.3,1138.1 L691.8,1136.6 L692.9,1134.6 L692.1,1132.6 L691.2,1130.5 L691.7,1128.5 L690.8,1126.5 L692.0,1124.5 L692.3,1122.5 L694.2,1120.5 L693.3,1118.5 L694.7,1116.5 L692.4,1114.4 L691.9,1112.4 L692.3,1110.4 L692.6,1108.4 L692.8,1106.4 L694.6,1104.4 L695.3,1102.4 L695.8,1100.4 L694.0,1098.3 L695.5,1096.4 L695.1,1094.3 L694.2,1092.3 L694.1,1090.3 L694.5,1088.3 L696.4,1086.3 L696.9,1084.3 L695.0,1082.2 L696.2,1080.2 L694.4,1078.2 L694.1,1076.1 L694.5,1074.1 L695.9,1072.2 L696.8,1070.2 L697.4,1068.2 L696.0,1066.1 L696.7,1064.1 L696.6,1062.1 L695.2,1060.0 L696.3,1058.0 L696.7,1056.0 L697.1,1054.0 L695.8,1052.0 L696.9,1050.0 L696.2,1047.9 L697.9,1046.0 L697.1,1043.9 L695.9,1041.9 L696.3,1039.9 L695.2,1037.8 L696.7,1035.9 L696.8,1033.8 L696.2,1031.8 L697.5,1029.8 L696.7,1027.8 L696.7,1025.8 L695.8,1023.7 L695.9,1021.7 L696.8,1019.7 L695.9,1017.7 L696.7,1015.7 L698.1,1013.7 L697.8,1011.7 L698.4,1009.7 L698.1,1007.7 L696.4,1005.6 L697.1,1003.6 L696.5,1002.1 L697.0,1000.3 L695.8,999.0 L695.7,996.8 L694.5,995.3 L692.4,995.2 L690.7,994.6 L688.9,996.6 L686.9,996.4 L684.9,996.9 L682.9,996.6 L681.0,994.3 L679.0,995.2 L677.0,994.9 L675.2,993.3 L673.4,993.9 L673.0,996.8 L671.6,997.3 L671.2,998.9 L670.2,999.8 L669.0,1001.0Z" fill="none" stroke="#111" stroke-width="2.3" stroke-linejoin="round"/>
<path d="M651,1153.2 L735,1153.2" stroke="#c04c47" stroke-width="2.3" fill="none"/>
<circle cx="651" cy="1153.2" r="6.2" fill="#e5413a"/>
<path d="M614.2,1245.6 L735,1245" stroke="#c04c47" stroke-width="2.3" fill="none"/>
<circle cx="614.2" cy="1245.6" r="6.2" fill="#e5413a"/>
<path d="M529.6,1275.1 L734.7,1403.4" stroke="#c04c47" stroke-width="2.3" fill="none"/>
<circle cx="529.6" cy="1275.1" r="6.2" fill="#e5413a"/>
<path d="M666.1,1403.4 L734.7,1403.4" stroke="#c04c47" stroke-width="2.3" fill="none"/>
<circle cx="666.1" cy="1403.4" r="6.2" fill="#e5413a"/>
</svg>
<div class="t" style="left:299.34px;top:78.01px;font-size:64px;line-height:77px;font-weight:700;font-style:normal;transform:scaleX(1.0554);">NID</div>
<div class="t" style="left:431.06px;top:78.01px;font-size:64px;line-height:77px;font-weight:700;font-style:normal;transform:scaleX(0.9372);">D&#8217;ANGE</div>
<div class="t" style="left:679.85px;top:78.01px;font-size:64px;line-height:77px;font-weight:700;font-style:normal;transform:scaleX(1.2820);">/</div>
<div class="t" style="left:717.74px;top:78.01px;font-size:64px;line-height:77px;font-weight:700;font-style:normal;transform:scaleX(0.9655);">BUNTING</div>
<div class="t" style="left:1014.42px;top:78.01px;font-size:64px;line-height:77px;font-weight:700;font-style:normal;transform:scaleX(0.9011);">BAG</div>
<div class="t" style="left:311.17px;top:154.00px;font-size:27px;line-height:32px;font-weight:700;font-style:normal;transform:scaleX(0.9137);">POUR SI&#200;GE D&#8217;AUTO ET POUSSETTE / FOR CAR SEAT &amp; STROLLER</div>
<div class="t" style="left:334.22px;top:269.01px;font-size:52px;line-height:62px;font-weight:700;font-style:normal;transform:scaleX(0.8894);">CARACT&#201;RISTIQUES / FEATURES</div>
<div class="t" style="left:742.01px;top:469.01px;font-size:29px;line-height:35px;font-weight:400;font-style:normal;transform:scaleX(0.9974);">Bandes de fourrure amovibles</div>
<div class="t" style="left:742.03px;top:503.01px;font-size:29px;line-height:35px;font-weight:400;font-style:italic;transform:scaleX(0.9650);">Removable fur trim</div>
<div class="t" style="left:742.02px;top:628.41px;font-size:29px;line-height:35px;font-weight:400;font-style:normal;transform:scaleX(0.9921);">&#201;lastique au dos pour fixer au</div>
<div class="t" style="left:742.02px;top:661.76px;font-size:29px;line-height:35px;font-weight:400;font-style:normal;transform:scaleX(0.9817);">si&#232;ge d&#8217;auto ou &#224; la poussette</div>
<div class="t" style="left:743.02px;top:695.81px;font-size:29px;line-height:35px;font-weight:400;font-style:italic;transform:scaleX(0.9801);">Elastic at the back to attach</div>
<div class="t" style="left:742.04px;top:728.81px;font-size:29px;line-height:35px;font-weight:400;font-style:italic;transform:scaleX(0.9649);">to the car seat or stroller</div>
<div class="t" style="left:740.86px;top:1120.81px;font-size:29px;line-height:35px;font-weight:400;font-style:normal;transform:scaleX(1.0559);">Fermoir YKK<sup>&#174;</sup></div>
<div class="t" style="left:741.22px;top:1154.91px;font-size:29px;line-height:35px;font-weight:400;font-style:italic;transform:scaleX(0.9266);">YKK<sup>&#174;</sup>zipper</div>
<div class="t" style="left:741.00px;top:1206.20px;font-size:29px;line-height:35px;font-weight:400;font-style:normal;transform:scaleX(0.9966);">C&#244;t&#233;s articul&#233;s pour s`adapter &#224; la</div>
<div class="t" style="left:743.20px;top:1240.01px;font-size:29px;line-height:35px;font-weight:400;font-style:normal;transform:scaleX(0.9981);">forme du si&#232;ge d`auto ou de la poussette</div>
<div class="t" style="left:742.96px;top:1274.41px;font-size:29px;line-height:35px;font-weight:400;font-style:italic;transform:scaleX(0.9625);">Articulated sides to adapt to the shape</div>
<div class="t" style="left:742.04px;top:1307.70px;font-size:29px;line-height:35px;font-weight:400;font-style:italic;transform:scaleX(0.9649);">of the car seat or stroller</div>
<div class="t" style="left:742.05px;top:1370.10px;font-size:29px;line-height:35px;font-weight:400;font-style:normal;transform:scaleX(0.9769);">Panneau d&#233;tachable avec velcros</div>
<div class="t" style="left:741.24px;top:1404.10px;font-size:29px;line-height:35px;font-weight:400;font-style:normal;transform:scaleX(0.9783);">pour passer les sangles et ceintures</div>
<div class="t" style="left:741.99px;top:1437.91px;font-size:29px;line-height:35px;font-weight:400;font-style:normal;transform:scaleX(1.0036);">de s&#233;curit&#233;</div>
<div class="t" style="left:742.23px;top:1471.51px;font-size:29px;line-height:35px;font-weight:400;font-style:italic;transform:scaleX(0.9611);">Detachable panel with Velcro</div>
<div class="t" style="left:741.09px;top:1505.20px;font-size:29px;line-height:35px;font-weight:400;font-style:italic;transform:scaleX(0.9383);">to pass straps and safety belts</div>
<div class="t" style="left:459.24px;top:1640.90px;font-size:28px;line-height:34px;font-weight:700;font-style:normal;transform:scaleX(0.9836);">LAVABLE &#192; LA MACHINE</div>
<div class="t" style="left:458.44px;top:1670.90px;font-size:28px;line-height:34px;font-weight:700;font-style:italic;transform:scaleX(0.9264);">MACHINE WASHABLE</div>
</body></html>
